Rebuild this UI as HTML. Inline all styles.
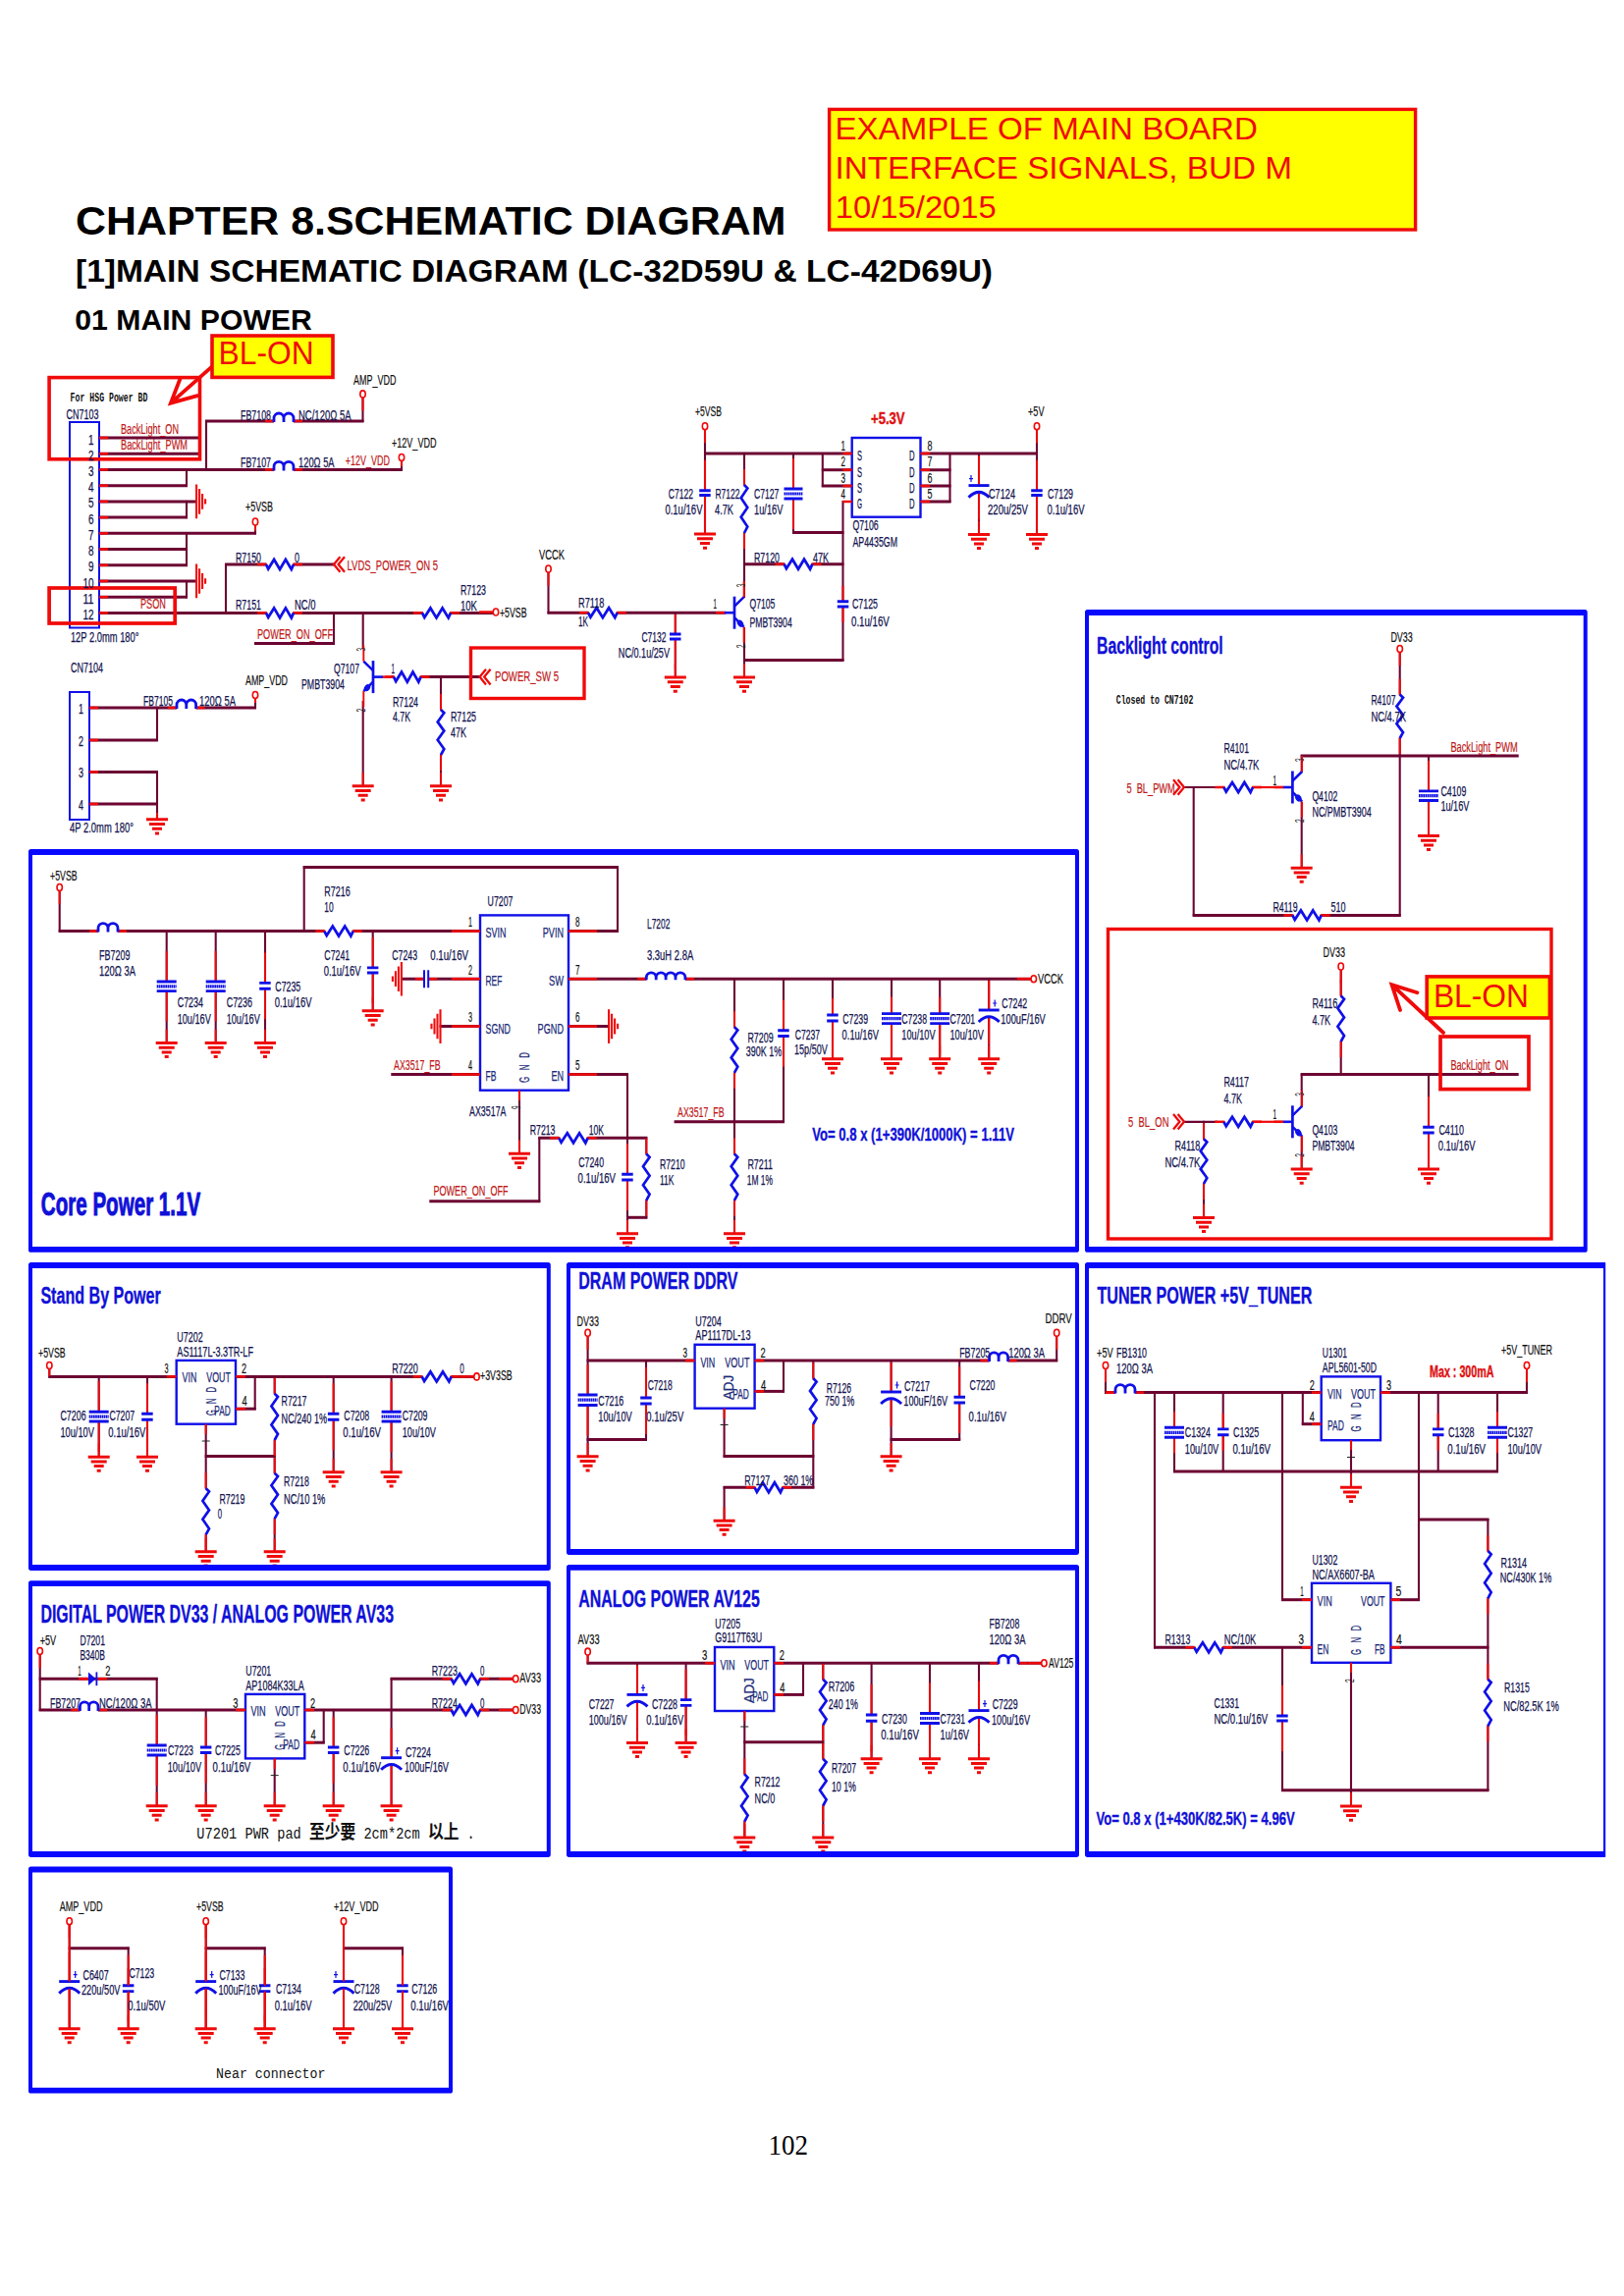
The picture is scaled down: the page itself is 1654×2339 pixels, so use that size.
<!DOCTYPE html>
<html><head><meta charset="utf-8"><title>Schematic</title><style>
html,body{margin:0;padding:0;background:#fff}
svg{display:block}
text{font-family:"Liberation Sans",sans-serif;white-space:pre}
.wh{stroke:#6c0432;stroke-width:3;fill:none}
.wv{stroke:#6c0432;stroke-width:2.1;fill:none}
.rh{stroke:#f00a0a;stroke-width:2.5;fill:none}
.rv{stroke:#f00a0a;stroke-width:1.9;fill:none}
.bz{stroke:#1010e8;stroke-width:2.8;fill:none;stroke-linejoin:miter}
.bzv{stroke:#1010e8;stroke-width:2.7;fill:none}
.bp{stroke:#1010e8;stroke-width:2.9;fill:none}
.bpv{stroke:#1010e8;stroke-width:2;fill:none}
.bpd{stroke:#1010e8;stroke-width:3.2;fill:none;stroke-dasharray:1.7 .45}
.g{stroke:#f00a0a;stroke-width:3;fill:none}
.gs{stroke:#f00a0a;stroke-width:2.1;fill:none}
.pw{stroke:#f00a0a;stroke-width:1.6;fill:#fff}
.n{fill:#141450;stroke:#141450;stroke-width:.25}
.ic{fill:#1a2a78;stroke:#1a2a78;stroke-width:.25}
.k{fill:#111;stroke:#111;stroke-width:.2}
.rd{fill:#c01818;stroke:#c01818;stroke-width:.2}
.rb{fill:#e01010;font-weight:bold;stroke:#e01010;stroke-width:.025em}
.ttl{fill:#1010d8;font-weight:bold;stroke:#1010d8;stroke-width:.35px;stroke-linejoin:round}
.ttlb{stroke-width:1px}
.mono{font-family:"Liberation Mono",monospace;font-weight:bold;fill:#111}
.cour{font-family:"Liberation Mono",monospace;fill:#111}
.cjk{font-family:"Noto Sans CJK SC",sans-serif;font-weight:bold;font-size:19px}
.hd{font-weight:bold;fill:#000}
.ser{font-family:"Liberation Serif",serif;fill:#000}
.an{fill:#f00a0a}
.tiny{font-size:12px;fill:#222}
</style></head>
<body><svg width="1654" height="2339" viewBox="0 0 1654 2339">
<rect width="1654" height="2339" fill="#fff"/>
<g id="wires"><path d="M100 446H202" class="wh"/><path d="M100 462.2H202" class="wh"/><path d="M100 478.4H410" class="wh"/><path d="M409 469V479.4" class="wv"/><path d="M210 428V479.4" class="wv"/><path d="M209 429H370.5" class="wh"/><path d="M369.5 404V430" class="wv"/><path d="M100 494.7H191" class="wh"/><path d="M190 477.4V495.7" class="wv"/><path d="M100 510.9H201" class="wh"/><path d="M100 527.1H191" class="wh"/><path d="M190 509.9V528.1" class="wv"/><path d="M100 543.3H261" class="wh"/><path d="M260 534V544.3" class="wv"/><path d="M100 559.5H191" class="wh"/><path d="M100 575.8H191" class="wh"/><path d="M190 542.3V576.8" class="wv"/><path d="M100 592H201" class="wh"/><path d="M100 608.2H191" class="wh"/><path d="M190 591V609.2" class="wv"/><path d="M100 624.4H505" class="wh"/><path d="M230 574V625.4" class="wv"/><path d="M229 575H341" class="wh"/><path d="M340 623.4V656.6" class="wv"/><path d="M259 655.6H341" class="wh"/><path d="M369.7 623.4V661" class="wv"/><path d="M369.7 714V801" class="wv"/><path d="M398 689.6H489" class="wh"/><path d="M449 688.6V801" class="wv"/><path d="M90 721H261" class="wh"/><path d="M260 711V722" class="wv"/><path d="M160 720V755" class="wv"/><path d="M90 754H161" class="wh"/><path d="M90 786.4H161" class="wh"/><path d="M90 819H161" class="wh"/><path d="M160 785.4V835" class="wv"/><path d="M718 436V544" class="wv"/><path d="M717 462H868" class="wh"/><path d="M758 461V609" class="wv"/><path d="M808 461V543.6" class="wv"/><path d="M807 542.6H859.5" class="wh"/><path d="M836.8 478.7H868" class="wh"/><path d="M836.8 495H868" class="wh"/><path d="M837.8 461V496" class="wv"/><path d="M858.5 510V673.6" class="wv"/><path d="M757 672.6H859.5" class="wh"/><path d="M936.5 462H1057" class="wh"/><path d="M936.5 478.7H968.5" class="wh"/><path d="M936.5 495H968.5" class="wh"/><path d="M936.5 511H968.5" class="wh"/><path d="M967.5 461V512" class="wv"/><path d="M997 461V544" class="wv"/><path d="M1056 436V544" class="wv"/><path d="M757 574.7H859.5" class="wh"/><path d="M758 639V690" class="wv"/><path d="M558.5 582V625.2" class="wv"/><path d="M557.5 624.2H739" class="wh"/><path d="M687.8 623.2V690" class="wv"/><path d="M1425.7 663V933.4" class="wv"/><path d="M1324.7 770H1546.7" class="wh"/><path d="M1325.7 769V787" class="wv"/><path d="M1325.7 817V884" class="wv"/><path d="M1215.7 801V933.4" class="wv"/><path d="M1214.7 932.4H1426.7" class="wh"/><path d="M1455 769V851" class="wv"/><path d="M1365.7 986V1095.5" class="wv"/><path d="M1324.7 1094.5H1546.7" class="wh"/><path d="M1325.7 1093.5V1128" class="wv"/><path d="M1325.7 1157V1191" class="wv"/><path d="M1226 1141.8V1240" class="wv"/><path d="M1455 1093.5V1191" class="wv"/><path d="M60.7 906V949.6" class="wv"/><path d="M59.7 948.6H490" class="wh"/><path d="M169.7 947.6V1062" class="wv"/><path d="M219.7 947.6V1062" class="wv"/><path d="M270 947.6V1062" class="wv"/><path d="M309.7 882.4V949.6" class="wv"/><path d="M308.7 883.4H630" class="wh"/><path d="M629 882.4V949.6" class="wv"/><path d="M578 948.6H630" class="wh"/><path d="M379.7 947.6V1030" class="wv"/><path d="M408 997.2H490" class="wh"/><path d="M447.6 1045.5H490" class="wh"/><path d="M398.3 1094.5H490" class="wh"/><path d="M529 1109.7V1175" class="wv"/><path d="M437.3 1223.8H550.3" class="wh"/><path d="M549.3 1158.3V1224.8" class="wv"/><path d="M548.3 1159.3H659.3" class="wh"/><path d="M578 997.2H1051" class="wh"/><path d="M578 1045.5H621" class="wh"/><path d="M578 1094.5H640" class="wh"/><path d="M639 1093.5V1256" class="wv"/><path d="M658.3 1158.3V1241.3" class="wv"/><path d="M638 1240.3H659.3" class="wh"/><path d="M748 996.2V1256" class="wv"/><path d="M798 996.2V1143.8" class="wv"/><path d="M686.6 1142.8H799" class="wh"/><path d="M848 996.2V1079" class="wv"/><path d="M908 996.2V1079" class="wv"/><path d="M957.2 996.2V1079" class="wv"/><path d="M1007.2 996.2V1079" class="wv"/><path d="M50.3 1393V1403.4" class="wv"/><path d="M49.3 1402.4H180.7" class="wh"/><path d="M100.7 1401.4V1484" class="wv"/><path d="M150 1401.4V1484" class="wv"/><path d="M239 1402.4H484" class="wh"/><path d="M239 1435.2H260.7" class="wh"/><path d="M259.7 1401.4V1436.2" class="wv"/><path d="M209.7 1449.7V1581" class="wv"/><path d="M208.7 1483.4H280.7" class="wh"/><path d="M279.7 1401.4V1581" class="wv"/><path d="M339.7 1401.4V1500" class="wv"/><path d="M398.6 1401.4V1500" class="wv"/><path d="M598.6 1360V1484" class="wv"/><path d="M597.6 1386H708.6" class="wh"/><path d="M658 1385V1467.4" class="wv"/><path d="M597.6 1466.4H659" class="wh"/><path d="M767.6 1386H1077.2" class="wh"/><path d="M1076.2 1360V1387" class="wv"/><path d="M767.6 1417.4H799" class="wh"/><path d="M798 1385V1418.4" class="wv"/><path d="M737.6 1433.7V1484.6" class="wv"/><path d="M736.6 1483.6H829.3" class="wh"/><path d="M828.3 1385V1516.3" class="wv"/><path d="M736.6 1515.3H829.3" class="wh"/><path d="M737.6 1514.3V1549" class="wv"/><path d="M907.6 1385V1484" class="wv"/><path d="M977.2 1385V1467.4" class="wv"/><path d="M906.6 1466.4H978.2" class="wh"/><path d="M1126 1393V1419.6" class="wv"/><path d="M1125 1418.6H1346.7" class="wh"/><path d="M1176 1417.6V1679.3" class="wv"/><path d="M1175 1678.3H1337" class="wh"/><path d="M1196 1417.6V1500" class="wv"/><path d="M1195 1499H1526" class="wh"/><path d="M1525 1417.6V1500" class="wv"/><path d="M1245.7 1417.6V1500" class="wv"/><path d="M1306 1417.6V1630.7" class="wv"/><path d="M1305 1629.7H1337" class="wh"/><path d="M1325.8 1450.7H1346.7" class="wh"/><path d="M1326.8 1417.6V1451.7" class="wv"/><path d="M1376 1466.2V1515" class="wv"/><path d="M1405 1418.6H1556" class="wh"/><path d="M1555 1393V1419.6" class="wv"/><path d="M1445 1417.6V1630.7" class="wv"/><path d="M1415.4 1629.7H1446" class="wh"/><path d="M1444 1548H1516.4" class="wh"/><path d="M1515.4 1547V1824.8" class="wv"/><path d="M1305 1823.8H1516.4" class="wh"/><path d="M1306 1677.3V1824.8" class="wv"/><path d="M1464.7 1417.6V1500" class="wv"/><path d="M1415.4 1678.3H1516.4" class="wh"/><path d="M1376 1692.8V1840" class="wv"/><path d="M40.7 1684V1743" class="wv"/><path d="M39.7 1742H251" class="wh"/><path d="M39.7 1710.3H160.7" class="wh"/><path d="M159.7 1709.3V1840" class="wv"/><path d="M209.7 1741V1840" class="wv"/><path d="M309.3 1742H524" class="wh"/><path d="M309.3 1775.2H330.7" class="wh"/><path d="M329.7 1741V1776.2" class="wv"/><path d="M279.7 1790.4V1840" class="wv"/><path d="M339.7 1741V1840" class="wv"/><path d="M397.6 1710.3H524" class="wh"/><path d="M398.6 1709.3V1840" class="wv"/><path d="M598.6 1684.6V1695.3" class="wv"/><path d="M597.6 1694.3H729" class="wh"/><path d="M649 1693.3V1775" class="wv"/><path d="M698.6 1693.3V1775" class="wv"/><path d="M787.3 1694.3H1062" class="wh"/><path d="M787.3 1726.4H819" class="wh"/><path d="M818 1693.3V1727.4" class="wv"/><path d="M758.3 1742V1872" class="wv"/><path d="M757.3 1774.7H839.3" class="wh"/><path d="M838.3 1693.3V1872" class="wv"/><path d="M887.6 1693.3V1791" class="wv"/><path d="M947 1693.3V1791" class="wv"/><path d="M997 1693.3V1791" class="wv"/><path d="M70.7 1959V2066" class="wv"/><path d="M69.7 1984.8H131.7" class="wh"/><path d="M130.7 1983.8V2066" class="wv"/><path d="M209.7 1959V2066" class="wv"/><path d="M208.7 1984.8H270.7" class="wh"/><path d="M269.7 1983.8V2066" class="wv"/><path d="M350 1959V2066" class="wv"/><path d="M349 1984.8H411" class="wh"/><path d="M410 1983.8V2066" class="wv"/></g>
<g id="comp"><rect x="71" y="430" width="30" height="209.5" fill="none" stroke="#1010e8" stroke-width="2"/><path d="M101 446H110" class="rh"/><path d="M101 462.2H110" class="rh"/><path d="M101 478.4H110" class="rh"/><path d="M101 494.7H110" class="rh"/><path d="M101 510.9H110" class="rh"/><path d="M101 527.1H110" class="rh"/><path d="M101 543.3H110" class="rh"/><path d="M101 559.5H110" class="rh"/><path d="M101 575.8H110" class="rh"/><path d="M101 592H110" class="rh"/><path d="M101 608.2H110" class="rh"/><path d="M101 624.4H110" class="rh"/><rect x="279" y="426" width="20" height="6" fill="#fff"/><path d="M270 429H279" class="rh"/><path d="M299 429H308" class="rh"/><path d="M279 430v-4a5 5 0 0 1 10 0v4v-4a5 5 0 0 1 10 0v4" class="bz" fill="none"/><path d="M369.5 404.4V418.4" class="rv"/><ellipse cx="369.5" cy="401.4" rx="2.7" ry="3.5" class="pw"/><rect x="279" y="475.4" width="20" height="6" fill="#fff"/><path d="M270 478.4H279" class="rh"/><path d="M299 478.4H308" class="rh"/><path d="M279 479.4v-4a5 5 0 0 1 10 0v4v-4a5 5 0 0 1 10 0v4" class="bz" fill="none"/><path d="M409 469V475" class="rv"/><ellipse cx="409" cy="466" rx="2.7" ry="3.5" class="pw"/><path d="M200.1 493.5v34.7M203.1 498.1v25.6M206.1 503v15.8M209.1 508.2v5.4" class="gs"/><path d="M260 534.5V540.5" class="rv"/><ellipse cx="260" cy="531.5" rx="2.7" ry="3.5" class="pw"/><path d="M200.1 574.6v34.7M203.1 579.2v25.6M206.1 584.1v15.8M209.1 589.3v5.4" class="gs"/><rect x="271" y="572" width="28" height="6" fill="#fff"/><path d="M262 575H272" class="rh"/><path d="M298 575H308" class="rh"/><path d="M271 575 L273.2 579.5 L279.1 570 L285 580 L290.9 570 L296.8 580 L299 575" class="bz"/><path d="M346.4 567.2L340 575L346.4 582.8M351 567.2L344.6 575L351 582.8" stroke="#f00a0a" stroke-width="2.3" fill="none"/><rect x="271" y="621.4" width="28" height="6" fill="#fff"/><path d="M262 624.4H272" class="rh"/><path d="M298 624.4H308" class="rh"/><path d="M271 624.4 L273.2 628.9 L279.1 619.4 L285 629.4 L290.9 619.4 L296.8 629.4 L299 624.4" class="bz"/><rect x="430" y="621.4" width="29" height="6" fill="#fff"/><path d="M421 624.4H431" class="rh"/><path d="M458 624.4H468" class="rh"/><path d="M430 624.4 L432.3 628.9 L438.4 619.4 L444.5 629.4 L450.6 619.4 L456.7 629.4 L459 624.4" class="bz"/><path d="M488 623.5H502.5" class="rh"/><ellipse cx="505" cy="623.5" rx="2.7" ry="3.5" class="pw"/><path d="M380 673.1v33" stroke="#1010e8" stroke-width="2.7"/><path d="M380 689.6h10" stroke="#1010e8" stroke-width="2.6"/><path d="M390 689.6H399" class="rh"/><path d="M380 683.1L370.3 673.6M380 694.6L370.3 704.1" stroke="#1010e8" stroke-width="2.5" fill="none"/><ellipse cx="374" cy="700.6" rx="2.9" ry="3.8" fill="#1010e8" transform="rotate(35 374 700.6)"/><path d="M370.3 657.6V673.6" class="rv"/><path d="M370.3 704.1V720.1" class="rv"/><text x="0" y="0" class="tiny" transform="translate(371.8,663.6) rotate(-90) scale(.55,1)">3</text><text x="0" y="0" class="tiny" transform="translate(371.8,725.6) rotate(-90) scale(.55,1)">2</text><path d="M369.7 787V800" class="rv"/><path d="M358.7 800.8h22M361.7 805.5h16M364.7 810.2h10M367.7 814.9h4" class="g"/><rect x="401" y="686.6" width="27.5" height="6" fill="#fff"/><path d="M392 689.6H402" class="rh"/><path d="M427.5 689.6H437.5" class="rh"/><path d="M401 689.6 L403.2 694.1 L409 684.6 L414.8 694.6 L420.5 684.6 L426.3 694.6 L428.5 689.6" class="bz"/><path d="M495 681.8L488.6 689.6L495 697.4M499.6 681.8L493.2 689.6L499.6 697.4" stroke="#f00a0a" stroke-width="2.3" fill="none"/><rect x="446.5" y="723" width="5" height="46" fill="#fff"/><path d="M449 707V724" class="rv"/><path d="M449 768V785" class="rv"/><path d="M449 723 L452.3 726.2 L445.7 735.4 L452.3 744.6 L445.7 753.8 L452.3 763 L449 769" class="bzv"/><path d="M449 787V800" class="rv"/><path d="M438 800.8h22M441 805.5h16M444 810.2h10M447 814.9h4" class="g"/><rect x="71" y="705" width="20" height="130" fill="none" stroke="#1010e8" stroke-width="2"/><path d="M91 721H100" class="rh"/><path d="M91 754H100" class="rh"/><path d="M91 786.4H100" class="rh"/><path d="M91 819H100" class="rh"/><path d="M260 711V716" class="rv"/><ellipse cx="260" cy="708" rx="2.7" ry="3.5" class="pw"/><rect x="180" y="718" width="19.5" height="6" fill="#fff"/><path d="M171 721H180" class="rh"/><path d="M199.5 721H208.5" class="rh"/><path d="M180 722v-4.1a4.9 4.9 0 0 1 9.8 0v4.1v-4.1a4.9 4.9 0 0 1 9.8 0v4.1" class="bz" fill="none"/><path d="M160 828V834" class="rv"/><path d="M149 834.8h22M152 839.5h16M155 844.2h10M158 848.9h4" class="g"/><path d="M718 437.3V451.3" class="rv"/><ellipse cx="718" cy="434.3" rx="2.7" ry="3.5" class="pw"/><rect x="715.5" y="499.7" width="5" height="4.8" fill="#fff"/><path d="M718 468.7V499.7" class="rv"/><path d="M718 504.5V535.5" class="rv"/><path d="M712.2 499.7h11.5M712.2 504.5h11.5" class="bp"/><path d="M718 530.3V543.3" class="rv"/><path d="M707 544.1h22M710 548.8h16M713 553.5h10M716 558.2h4" class="g"/><rect x="755.5" y="494" width="5" height="49" fill="#fff"/><path d="M758 478V495" class="rv"/><path d="M758 542V559" class="rv"/><path d="M758 494 L761.3 497.4 L754.7 507.2 L761.3 517 L754.7 526.8 L761.3 536.6 L758 543" class="bzv"/><rect x="805.5" y="498" width="5" height="10" fill="#fff"/><path d="M808 467V498" class="rv"/><path d="M808 508V539" class="rv"/><path d="M798.5 498h19M798.5 508h19" class="bp"/><path d="M798.5 503h19" class="bpd"/><rect x="867.7" y="446" width="69.8" height="80.7" fill="#fff" stroke="#1010e8" stroke-width="2.4"/><path d="M858.5 462H867.7" class="rh"/><path d="M937.5 462H947" class="rh"/><path d="M858.5 478.7H867.7" class="rh"/><path d="M937.5 478.7H947" class="rh"/><path d="M858.5 495H867.7" class="rh"/><path d="M937.5 495H947" class="rh"/><path d="M858.5 511H867.7" class="rh"/><path d="M937.5 511H947" class="rh"/><rect x="994.5" y="494.6" width="5" height="7" fill="#fff"/><path d="M997 464.6V494.6" class="rv"/><path d="M997 501.6V529.6" class="rv"/><path d="M986.5 494.6h21" class="bp"/><path d="M986.5 506.6Q997 496.1 1007.5 506.6" class="bp" fill="none"/><path d="M987 487.6h4M989 484.1v7" stroke="#1010e8" stroke-width="1.2" fill="none"/><path d="M997 530.7V543.7" class="rv"/><path d="M986 544.5h22M989 549.2h16M992 553.9h10M995 558.6h4" class="g"/><path d="M1056 437.3V451.3" class="rv"/><ellipse cx="1056" cy="434.3" rx="2.7" ry="3.5" class="pw"/><rect x="1053.5" y="499.7" width="5" height="4.8" fill="#fff"/><path d="M1056 468.7V499.7" class="rv"/><path d="M1056 504.5V535.5" class="rv"/><path d="M1050.2 499.7h11.5M1050.2 504.5h11.5" class="bp"/><path d="M1056 530.7V543.7" class="rv"/><path d="M1045 544.5h22M1048 549.2h16M1051 553.9h10M1054 558.6h4" class="g"/><rect x="798.6" y="571.7" width="28.8" height="6" fill="#fff"/><path d="M789.6 574.7H799.6" class="rh"/><path d="M826.4 574.7H836.4" class="rh"/><path d="M798.6 574.7 L800.9 579.2 L807 569.7 L813 579.7 L819 569.7 L825.1 579.7 L827.4 574.7" class="bz"/><rect x="856" y="612.8" width="5" height="5.2" fill="#fff"/><path d="M858.5 596.8V612.8" class="rv"/><path d="M858.5 618V634" class="rv"/><path d="M852.8 612.8h11.5M852.8 618h11.5" class="bp"/><path d="M748 607.7v33" stroke="#1010e8" stroke-width="2.7"/><path d="M748 624.2h-10" stroke="#1010e8" stroke-width="2.6"/><path d="M729 624.2H738" class="rh"/><path d="M748 617.7L757.7 608.2M748 629.2L757.7 638.7" stroke="#1010e8" stroke-width="2.5" fill="none"/><ellipse cx="754" cy="635.2" rx="2.9" ry="3.8" fill="#1010e8" transform="rotate(-35 754 635.2)"/><path d="M757.7 592.2V608.2" class="rv"/><path d="M757.7 638.7V654.7" class="rv"/><text x="0" y="0" class="tiny" transform="translate(759.2,598.2) rotate(-90) scale(.55,1)">3</text><text x="0" y="0" class="tiny" transform="translate(759.2,660.2) rotate(-90) scale(.55,1)">2</text><path d="M758 676.3V689.3" class="rv"/><path d="M747 690.1h22M750 694.8h16M753 699.5h10M756 704.2h4" class="g"/><path d="M558.5 582.5V596.5" class="rv"/><ellipse cx="558.5" cy="579.5" rx="2.7" ry="3.5" class="pw"/><rect x="599" y="621.2" width="29.7" height="6" fill="#fff"/><path d="M590 624.2H600" class="rh"/><path d="M627.7 624.2H637.7" class="rh"/><path d="M599 624.2 L601.4 628.7 L607.6 619.2 L613.9 629.2 L620.1 619.2 L626.3 629.2 L628.7 624.2" class="bz"/><rect x="685.3" y="646" width="5" height="5" fill="#fff"/><path d="M687.8 626V646" class="rv"/><path d="M687.8 651V682" class="rv"/><path d="M682 646h11.5M682 651h11.5" class="bp"/><path d="M687.8 676.3V689.3" class="rv"/><path d="M676.8 690.1h22M679.8 694.8h16M682.8 699.5h10M685.8 704.2h4" class="g"/><path d="M1425.7 664V678" class="rv"/><ellipse cx="1425.7" cy="661" rx="2.7" ry="3.5" class="pw"/><rect x="1423.2" y="707.6" width="5" height="44.4" fill="#fff"/><path d="M1425.7 691.6V708.6" class="rv"/><path d="M1425.7 751V768" class="rv"/><path d="M1425.7 707.6 L1429 710.7 L1422.4 719.6 L1429 728.5 L1422.4 737.3 L1429 746.2 L1425.7 752" class="bzv"/><path d="M1316.4 785.5v33" stroke="#1010e8" stroke-width="2.7"/><path d="M1316.4 802h-10" stroke="#1010e8" stroke-width="2.6"/><path d="M1297.4 802H1306.4" class="rh"/><path d="M1316.4 795.5L1326.1 786M1316.4 807L1326.1 816.5" stroke="#1010e8" stroke-width="2.5" fill="none"/><ellipse cx="1322.4" cy="813" rx="2.9" ry="3.8" fill="#1010e8" transform="rotate(-35 1322.4 813)"/><path d="M1326.1 770V786" class="rv"/><path d="M1326.1 816.5V832.5" class="rv"/><text x="0" y="0" class="tiny" transform="translate(1327.6,776) rotate(-90) scale(.55,1)">3</text><text x="0" y="0" class="tiny" transform="translate(1327.6,838) rotate(-90) scale(.55,1)">2</text><path d="M1325.7 870.4V883.4" class="rv"/><path d="M1314.7 884.2h22M1317.7 888.9h16M1320.7 893.6h10M1323.7 898.3h4" class="g"/><path d="M1206 802H1240" stroke="#6c0432" stroke-width="2.2"/><path d="M1276 802H1307" stroke="#f00a0a" stroke-width="2.2"/><rect x="1246.4" y="799" width="29.6" height="6" fill="#fff"/><path d="M1237.4 802H1247.4" class="rh"/><path d="M1275 802H1285" class="rh"/><path d="M1246.4 802 L1248.8 806.5 L1255 797 L1261.2 807 L1267.4 797 L1273.6 807 L1276 802" class="bz"/><path d="M1199.6 794.2L1206 802L1199.6 809.8M1195 794.2L1201.4 802L1195 809.8" stroke="#f00a0a" stroke-width="2.3" fill="none"/><rect x="1316.4" y="929.4" width="29.3" height="6" fill="#fff"/><path d="M1307.4 932.4H1317.4" class="rh"/><path d="M1344.7 932.4H1354.7" class="rh"/><path d="M1316.4 932.4 L1318.7 936.9 L1324.9 927.4 L1331.1 937.4 L1337.2 927.4 L1343.4 937.4 L1345.7 932.4" class="bz"/><rect x="1452.5" y="805.9" width="5" height="9.6" fill="#fff"/><path d="M1455 774.9V805.9" class="rv"/><path d="M1455 815.5V846.5" class="rv"/><path d="M1445 805.9h20M1445 815.5h20" class="bp"/><path d="M1445 810.7h20" class="bpd"/><path d="M1455 837.7V850.7" class="rv"/><path d="M1444 851.5h22M1447 856.2h16M1450 860.9h10M1453 865.6h4" class="g"/><path d="M1365.7 987.5V1001.5" class="rv"/><ellipse cx="1365.7" cy="984.5" rx="2.7" ry="3.5" class="pw"/><rect x="1363.2" y="1014.5" width="5" height="46.5" fill="#fff"/><path d="M1365.7 998.5V1015.5" class="rv"/><path d="M1365.7 1060V1077" class="rv"/><path d="M1365.7 1014.5 L1369 1017.8 L1362.4 1027.1 L1369 1036.4 L1362.4 1045.7 L1369 1055 L1365.7 1061" class="bzv"/><path d="M1316.4 1126.3v33" stroke="#1010e8" stroke-width="2.7"/><path d="M1316.4 1142.8h-10" stroke="#1010e8" stroke-width="2.6"/><path d="M1297.4 1142.8H1306.4" class="rh"/><path d="M1316.4 1136.3L1326.1 1126.8M1316.4 1147.8L1326.1 1157.3" stroke="#1010e8" stroke-width="2.5" fill="none"/><ellipse cx="1322.4" cy="1153.8" rx="2.9" ry="3.8" fill="#1010e8" transform="rotate(-35 1322.4 1153.8)"/><path d="M1326.1 1110.8V1126.8" class="rv"/><path d="M1326.1 1157.3V1173.3" class="rv"/><text x="0" y="0" class="tiny" transform="translate(1327.6,1116.8) rotate(-90) scale(.55,1)">3</text><text x="0" y="0" class="tiny" transform="translate(1327.6,1178.8) rotate(-90) scale(.55,1)">2</text><path d="M1325.7 1177.3V1190.3" class="rv"/><path d="M1314.7 1191.1h22M1317.7 1195.8h16M1320.7 1200.5h10M1323.7 1205.2h4" class="g"/><path d="M1206 1142.8H1240" stroke="#6c0432" stroke-width="2.2"/><path d="M1276 1142.8H1307" stroke="#f00a0a" stroke-width="2.2"/><rect x="1246.4" y="1139.8" width="29.6" height="6" fill="#fff"/><path d="M1237.4 1142.8H1247.4" class="rh"/><path d="M1275 1142.8H1285" class="rh"/><path d="M1246.4 1142.8 L1248.8 1147.3 L1255 1137.8 L1261.2 1147.8 L1267.4 1137.8 L1273.6 1147.8 L1276 1142.8" class="bz"/><path d="M1199.6 1135L1206 1142.8L1199.6 1150.6M1195 1135L1201.4 1142.8L1195 1150.6" stroke="#f00a0a" stroke-width="2.3" fill="none"/><rect x="1223.5" y="1160.3" width="5" height="45.6" fill="#fff"/><path d="M1226 1144.3V1161.3" class="rv"/><path d="M1226 1204.9V1221.9" class="rv"/><path d="M1226 1160.3 L1229.3 1163.5 L1222.7 1172.6 L1229.3 1181.7 L1222.7 1190.9 L1229.3 1200 L1226 1205.9" class="bzv"/><path d="M1226 1226.7V1239.7" class="rv"/><path d="M1215 1240.5h22M1218 1245.2h16M1221 1249.9h10M1224 1254.6h4" class="g"/><rect x="1452.5" y="1148.3" width="5" height="5.7" fill="#fff"/><path d="M1455 1117.3V1148.3" class="rv"/><path d="M1455 1154V1185" class="rv"/><path d="M1449.2 1148.3h11.5M1449.2 1154h11.5" class="bp"/><path d="M1455 1177.3V1190.3" class="rv"/><path d="M1444 1191.1h22M1447 1195.8h16M1450 1200.5h10M1453 1205.2h4" class="g"/><path d="M60.7 907V921" class="rv"/><ellipse cx="60.7" cy="904" rx="2.7" ry="3.5" class="pw"/><rect x="100" y="945.6" width="20" height="6" fill="#fff"/><path d="M91 948.6H100" class="rh"/><path d="M120 948.6H129" class="rh"/><path d="M100 949.6v-4a5 5 0 0 1 10 0v4v-4a5 5 0 0 1 10 0v4" class="bz" fill="none"/><rect x="167.2" y="1000" width="5" height="9.6" fill="#fff"/><path d="M169.7 969V1000" class="rv"/><path d="M169.7 1009.6V1040.6" class="rv"/><path d="M159.7 1000h20M159.7 1009.6h20" class="bp"/><path d="M159.7 1004.8h20" class="bpd"/><path d="M169.7 1048.7V1061.7" class="rv"/><path d="M158.7 1062.5h22M161.7 1067.2h16M164.7 1071.9h10M167.7 1076.6h4" class="g"/><rect x="217.2" y="1000" width="5" height="9.6" fill="#fff"/><path d="M219.7 969V1000" class="rv"/><path d="M219.7 1009.6V1040.6" class="rv"/><path d="M209.7 1000h20M209.7 1009.6h20" class="bp"/><path d="M209.7 1004.8h20" class="bpd"/><path d="M219.7 1048.7V1061.7" class="rv"/><path d="M208.7 1062.5h22M211.7 1067.2h16M214.7 1071.9h10M217.7 1076.6h4" class="g"/><rect x="267.5" y="1001.4" width="5" height="5.8" fill="#fff"/><path d="M270 970.4V1001.4" class="rv"/><path d="M270 1007.2V1038.2" class="rv"/><path d="M264.2 1001.4h11.5M264.2 1007.2h11.5" class="bp"/><path d="M270 1048.7V1061.7" class="rv"/><path d="M259 1062.5h22M262 1067.2h16M265 1071.9h10M268 1076.6h4" class="g"/><rect x="330.3" y="945.6" width="29.4" height="6" fill="#fff"/><path d="M321.3 948.6H331.3" class="rh"/><path d="M358.7 948.6H368.7" class="rh"/><path d="M330.3 948.6 L332.7 953.1 L338.8 943.6 L345 953.6 L351.2 943.6 L357.3 953.6 L359.7 948.6" class="bz"/><rect x="377.2" y="985.9" width="5" height="5.1" fill="#fff"/><path d="M379.7 954.9V985.9" class="rv"/><path d="M379.7 991V1022" class="rv"/><path d="M373.9 985.9h11.5M373.9 991h11.5" class="bp"/><path d="M379.7 1016V1029" class="rv"/><path d="M368.7 1029.8h22M371.7 1034.5h16M374.7 1039.2h10M377.7 1043.9h4" class="g"/><rect x="432" y="994.2" width="4.2" height="6" fill="#fff"/><path d="M423 997.2H432" class="rh"/><path d="M436.2 997.2H445.2" class="rh"/><path d="M432 988.2v18M436.2 988.2v18" class="bpv"/><path d="M408.9 979.9v34.7M405.9 984.4v25.6M402.9 989.3v15.8M399.9 994.5v5.4" class="gs"/><path d="M448.5 1028.2v34.7M445.5 1032.7v25.6M442.5 1037.6v15.8M439.5 1042.8v5.4" class="gs"/><rect x="489" y="932.4" width="90" height="178.3" fill="#fff" stroke="#1010e8" stroke-width="2.4"/><path d="M460 948.6H489" class="rh"/><path d="M579 948.6H608" class="rh"/><path d="M460 997.2H489" class="rh"/><path d="M579 997.2H608" class="rh"/><path d="M460 1045.5H489" class="rh"/><path d="M579 1045.5H608" class="rh"/><path d="M460 1094.5H489" class="rh"/><path d="M579 1094.5H608" class="rh"/><path d="M529 1110.7V1121" class="rv"/><path d="M529 1161.5V1174.5" class="rv"/><path d="M518 1175.3h22M521 1180h16M524 1184.7h10M527 1189.4h4" class="g"/><text class="tiny" transform="translate(530,1130) rotate(-90) scale(.55,1)">9</text><rect x="658.3" y="994.2" width="39.7" height="6" fill="#fff"/><path d="M649.3 997.2H658.3" class="rh"/><path d="M698 997.2H707" class="rh"/><path d="M658.3 998.2v-3a5 5 0 0 1 9.9 0v3v-3a5 5 0 0 1 9.9 0v3v-3a5 5 0 0 1 9.9 0v3v-3a5 5 0 0 1 9.9 0v3" class="bz" fill="none"/><path d="M1035.8 997.2H1050.3" class="rh"/><ellipse cx="1052.8" cy="997.2" rx="2.7" ry="3.5" class="pw"/><path d="M620.1 1028.2v34.7M623.1 1032.7v25.6M626.1 1037.6v15.8M629.1 1042.8v5.4" class="gs"/><rect x="636.5" y="1196.2" width="5" height="5.8" fill="#fff"/><path d="M639 1165.2V1196.2" class="rv"/><path d="M639 1202V1233" class="rv"/><path d="M633.2 1196.2h11.5M633.2 1202h11.5" class="bp"/><path d="M639 1242.9V1255.9" class="rv"/><path d="M628 1256.7h22M631 1261.4h16M634 1266.1h10M637 1270.8h4" class="g"/><rect x="569.3" y="1156.3" width="29.3" height="6" fill="#fff"/><path d="M560.3 1159.3H570.3" class="rh"/><path d="M597.6 1159.3H607.6" class="rh"/><path d="M569.3 1159.3 L571.6 1163.8 L577.8 1154.3 L584 1164.3 L590.1 1154.3 L596.3 1164.3 L598.6 1159.3" class="bz"/><rect x="655.8" y="1175.5" width="5" height="47.3" fill="#fff"/><path d="M658.3 1159.5V1176.5" class="rv"/><path d="M658.3 1221.8V1238.8" class="rv"/><path d="M658.3 1175.5 L661.6 1178.8 L655 1188.3 L661.6 1197.7 L655 1207.2 L661.6 1216.7 L658.3 1222.8" class="bzv"/><rect x="745.5" y="1046.2" width="5" height="46.6" fill="#fff"/><path d="M748 1030.2V1047.2" class="rv"/><path d="M748 1091.8V1108.8" class="rv"/><path d="M748 1046.2 L751.3 1049.5 L744.7 1058.8 L751.3 1068.1 L744.7 1077.4 L751.3 1086.7 L748 1092.8" class="bzv"/><rect x="745.5" y="1175.5" width="5" height="47.3" fill="#fff"/><path d="M748 1159.5V1176.5" class="rv"/><path d="M748 1221.8V1238.8" class="rv"/><path d="M748 1175.5 L751.3 1178.8 L744.7 1188.3 L751.3 1197.7 L744.7 1207.2 L751.3 1216.7 L748 1222.8" class="bzv"/><path d="M748 1242.9V1255.9" class="rv"/><path d="M737 1256.7h22M740 1261.4h16M743 1266.1h10M746 1270.8h4" class="g"/><rect x="795.5" y="1049.7" width="5" height="5.8" fill="#fff"/><path d="M798 1018.7V1049.7" class="rv"/><path d="M798 1055.5V1086.5" class="rv"/><path d="M792.2 1049.7h11.5M792.2 1055.5h11.5" class="bp"/><rect x="845.5" y="1034" width="5" height="6" fill="#fff"/><path d="M848 1017V1034" class="rv"/><path d="M848 1040V1071" class="rv"/><path d="M842.2 1034h11.5M842.2 1040h11.5" class="bp"/><path d="M848 1065V1078" class="rv"/><path d="M837 1078.8h22M840 1083.5h16M843 1088.2h10M846 1092.9h4" class="g"/><rect x="905.5" y="1032.6" width="5" height="10" fill="#fff"/><path d="M908 1015.6V1032.6" class="rv"/><path d="M908 1042.6V1073.6" class="rv"/><path d="M898 1032.6h20M898 1042.6h20" class="bp"/><path d="M898 1037.6h20" class="bpd"/><path d="M908 1065V1078" class="rv"/><path d="M897 1078.8h22M900 1083.5h16M903 1088.2h10M906 1092.9h4" class="g"/><rect x="954.7" y="1032.6" width="5" height="10" fill="#fff"/><path d="M957.2 1015.6V1032.6" class="rv"/><path d="M957.2 1042.6V1073.6" class="rv"/><path d="M947.2 1032.6h20M947.2 1042.6h20" class="bp"/><path d="M947.2 1037.6h20" class="bpd"/><path d="M957.2 1065V1078" class="rv"/><path d="M946.2 1078.8h22M949.2 1083.5h16M952.2 1088.2h10M955.2 1092.9h4" class="g"/><rect x="1004.7" y="1029" width="5" height="7" fill="#fff"/><path d="M1007.2 999V1029" class="rv"/><path d="M1007.2 1036V1064" class="rv"/><path d="M996.7 1029h21" class="bp"/><path d="M996.7 1041Q1007.2 1030.5 1017.7 1041" class="bp" fill="none"/><path d="M1011.2 1022h4M1013.2 1018.5v7" stroke="#1010e8" stroke-width="1.2" fill="none"/><path d="M1007.2 1065V1078" class="rv"/><path d="M996.2 1078.8h22M999.2 1083.5h16M1002.2 1088.2h10M1005.2 1092.9h4" class="g"/><path d="M50.3 1394V1402" class="rv"/><ellipse cx="50.3" cy="1391" rx="2.7" ry="3.5" class="pw"/><rect x="98.2" y="1438.3" width="5" height="9.7" fill="#fff"/><path d="M100.7 1407.3V1438.3" class="rv"/><path d="M100.7 1448V1479" class="rv"/><path d="M90.7 1438.3h20M90.7 1448h20" class="bp"/><path d="M90.7 1443.2h20" class="bpd"/><path d="M100.7 1470.4V1483.4" class="rv"/><path d="M89.7 1484.2h22M92.7 1488.9h16M95.7 1493.6h10M98.7 1498.3h4" class="g"/><rect x="147.5" y="1440.3" width="5" height="5.9" fill="#fff"/><path d="M150 1409.3V1440.3" class="rv"/><path d="M150 1446.2V1477.2" class="rv"/><path d="M144.2 1440.3h11.5M144.2 1446.2h11.5" class="bp"/><path d="M150 1470.4V1483.4" class="rv"/><path d="M139 1484.2h22M142 1488.9h16M145 1493.6h10M148 1498.3h4" class="g"/><rect x="179.7" y="1385.9" width="60.3" height="64.8" fill="#fff" stroke="#1010e8" stroke-width="2.4"/><path d="M170 1402.4H179.7" class="rh"/><path d="M240 1402.4H250" class="rh"/><path d="M240 1435.2H250" class="rh"/><path d="M209.7 1450.7V1461" class="rv"/><path d="M205.7 1468h8" stroke="#222" stroke-width="1"/><rect x="207.2" y="1516.2" width="5" height="47.2" fill="#fff"/><path d="M209.7 1500.2V1517.2" class="rv"/><path d="M209.7 1562.4V1579.4" class="rv"/><path d="M209.7 1516.2 L213 1519.5 L206.4 1528.9 L213 1538.4 L206.4 1547.8 L213 1557.3 L209.7 1563.4" class="bzv"/><path d="M209.7 1567V1580" class="rv"/><path d="M198.7 1580.8h22M201.7 1585.5h16M204.7 1590.2h10M207.7 1594.9h4" class="g"/><rect x="277.2" y="1419.7" width="5" height="47.3" fill="#fff"/><path d="M279.7 1403.7V1420.7" class="rv"/><path d="M279.7 1466V1483" class="rv"/><path d="M279.7 1419.7 L283 1423 L276.4 1432.5 L283 1441.9 L276.4 1451.4 L283 1460.9 L279.7 1467" class="bzv"/><rect x="277.2" y="1500.7" width="5" height="46.5" fill="#fff"/><path d="M279.7 1484.7V1501.7" class="rv"/><path d="M279.7 1546.2V1563.2" class="rv"/><path d="M279.7 1500.7 L283 1504 L276.4 1513.3 L283 1522.6 L276.4 1531.9 L283 1541.2 L279.7 1547.2" class="bzv"/><path d="M279.7 1567V1580" class="rv"/><path d="M268.7 1580.8h22M271.7 1585.5h16M274.7 1590.2h10M277.7 1594.9h4" class="g"/><rect x="337.2" y="1440.3" width="5" height="5.9" fill="#fff"/><path d="M339.7 1409.3V1440.3" class="rv"/><path d="M339.7 1446.2V1477.2" class="rv"/><path d="M333.9 1440.3h11.5M333.9 1446.2h11.5" class="bp"/><path d="M339.7 1486V1499" class="rv"/><path d="M328.7 1499.8h22M331.7 1504.5h16M334.7 1509.2h10M337.7 1513.9h4" class="g"/><rect x="396.1" y="1438.3" width="5" height="9.7" fill="#fff"/><path d="M398.6 1407.3V1438.3" class="rv"/><path d="M398.6 1448V1479" class="rv"/><path d="M388.6 1438.3h20M388.6 1448h20" class="bp"/><path d="M388.6 1443.2h20" class="bpd"/><path d="M398.6 1486V1499" class="rv"/><path d="M387.6 1499.8h22M390.6 1504.5h16M393.6 1509.2h10M396.6 1513.9h4" class="g"/><rect x="429.7" y="1399.4" width="30" height="6" fill="#fff"/><path d="M420.7 1402.4H430.7" class="rh"/><path d="M458.7 1402.4H468.7" class="rh"/><path d="M429.7 1402.4 L432.1 1406.9 L438.4 1397.4 L444.7 1407.4 L451 1397.4 L457.3 1407.4 L459.7 1402.4" class="bz"/><path d="M468.5 1402.4H483" class="rh"/><ellipse cx="485.5" cy="1402.4" rx="2.7" ry="3.5" class="pw"/><path d="M598.6 1360.8V1374.8" class="rv"/><ellipse cx="598.6" cy="1357.8" rx="2.7" ry="3.5" class="pw"/><rect x="596.1" y="1421" width="5" height="10.5" fill="#fff"/><path d="M598.6 1390V1421" class="rv"/><path d="M598.6 1431.5V1462.5" class="rv"/><path d="M588.6 1421h20M588.6 1431.5h20" class="bp"/><path d="M588.6 1426.2h20" class="bpd"/><path d="M598.6 1470V1483" class="rv"/><path d="M587.6 1483.8h22M590.6 1488.5h16M593.6 1493.2h10M596.6 1497.9h4" class="g"/><rect x="655.5" y="1424" width="5" height="6" fill="#fff"/><path d="M658 1393V1424" class="rv"/><path d="M658 1430V1461" class="rv"/><path d="M652.2 1424h11.5M652.2 1430h11.5" class="bp"/><rect x="707.6" y="1369.8" width="61" height="64.9" fill="#fff" stroke="#1010e8" stroke-width="2.4"/><path d="M698 1386H707.6" class="rh"/><path d="M768.6 1386H778" class="rh"/><path d="M768.6 1417.4H778" class="rh"/><path d="M1076.2 1360.8V1374.8" class="rv"/><ellipse cx="1076.2" cy="1357.8" rx="2.7" ry="3.5" class="pw"/><path d="M737.6 1434.7V1445" class="rv"/><path d="M733.6 1451.5h8" stroke="#222" stroke-width="1"/><rect x="825.8" y="1404.3" width="5" height="46.6" fill="#fff"/><path d="M828.3 1388.3V1405.3" class="rv"/><path d="M828.3 1449.9V1466.9" class="rv"/><path d="M828.3 1404.3 L831.6 1407.6 L825 1416.9 L831.6 1426.2 L825 1435.5 L831.6 1444.8 L828.3 1450.9" class="bzv"/><rect x="768.6" y="1512.3" width="28.6" height="6" fill="#fff"/><path d="M759.6 1515.3H769.6" class="rh"/><path d="M796.2 1515.3H806.2" class="rh"/><path d="M768.6 1515.3 L770.9 1519.8 L776.9 1510.3 L782.9 1520.3 L788.9 1510.3 L794.9 1520.3 L797.2 1515.3" class="bz"/><path d="M737.6 1535.4V1548.4" class="rv"/><path d="M726.6 1549.2h22M729.6 1553.9h16M732.6 1558.6h10M735.6 1563.3h4" class="g"/><rect x="905.1" y="1418" width="5" height="7" fill="#fff"/><path d="M907.6 1388V1418" class="rv"/><path d="M907.6 1425V1453" class="rv"/><path d="M897.1 1418h21" class="bp"/><path d="M897.1 1430Q907.6 1419.5 918.1 1430" class="bp" fill="none"/><path d="M911.6 1411h4M913.6 1407.5v7" stroke="#1010e8" stroke-width="1.2" fill="none"/><path d="M907.6 1470V1483" class="rv"/><path d="M896.6 1483.8h22M899.6 1488.5h16M902.6 1493.2h10M905.6 1497.9h4" class="g"/><rect x="974.7" y="1423.3" width="5" height="5.7" fill="#fff"/><path d="M977.2 1392.3V1423.3" class="rv"/><path d="M977.2 1429V1460" class="rv"/><path d="M971.5 1423.3h11.5M971.5 1429h11.5" class="bp"/><rect x="1007.6" y="1383" width="19" height="6" fill="#fff"/><path d="M998.6 1386H1007.6" class="rh"/><path d="M1026.6 1386H1035.6" class="rh"/><path d="M1007.6 1387v-4.3a4.7 4.7 0 0 1 9.5 0v4.3v-4.3a4.7 4.7 0 0 1 9.5 0v4.3" class="bz" fill="none"/><path d="M1126 1394V1408" class="rv"/><ellipse cx="1126" cy="1391" rx="2.7" ry="3.5" class="pw"/><path d="M1126 1418.6H1137" class="rh"/><rect x="1136" y="1415.6" width="20" height="6" fill="#fff"/><path d="M1127 1418.6H1136" class="rh"/><path d="M1156 1418.6H1165" class="rh"/><path d="M1136 1419.6v-4a5 5 0 0 1 10 0v4v-4a5 5 0 0 1 10 0v4" class="bz" fill="none"/><rect x="1193.5" y="1454.3" width="5" height="10" fill="#fff"/><path d="M1196 1438.3V1454.3" class="rv"/><path d="M1196 1464.3V1480.3" class="rv"/><path d="M1186 1454.3h20M1186 1464.3h20" class="bp"/><path d="M1186 1459.3h20" class="bpd"/><rect x="1243.2" y="1455.9" width="5" height="5.8" fill="#fff"/><path d="M1245.7 1439.9V1455.9" class="rv"/><path d="M1245.7 1461.7V1477.7" class="rv"/><path d="M1240 1455.9h11.5M1240 1461.7h11.5" class="bp"/><rect x="1345.7" y="1402.4" width="60.3" height="64.8" fill="#fff" stroke="#1010e8" stroke-width="2.4"/><path d="M1336 1418.6H1345.7" class="rh"/><path d="M1336 1450.7H1345.7" class="rh"/><path d="M1406 1418.6H1416" class="rh"/><path d="M1376 1467.2V1477" class="rv"/><path d="M1372 1484.5h8" stroke="#222" stroke-width="1"/><path d="M1376 1501.5V1514.5" class="rv"/><path d="M1365 1515.3h22M1368 1520h16M1371 1524.7h10M1374 1529.4h4" class="g"/><path d="M1555 1394V1408" class="rv"/><ellipse cx="1555" cy="1391" rx="2.7" ry="3.5" class="pw"/><rect x="1462.2" y="1455.9" width="5" height="5.8" fill="#fff"/><path d="M1464.7 1439.9V1455.9" class="rv"/><path d="M1464.7 1461.7V1477.7" class="rv"/><path d="M1459 1455.9h11.5M1459 1461.7h11.5" class="bp"/><rect x="1522.5" y="1454.3" width="5" height="10" fill="#fff"/><path d="M1525 1438.3V1454.3" class="rv"/><path d="M1525 1464.3V1480.3" class="rv"/><path d="M1515 1454.3h20M1515 1464.3h20" class="bp"/><path d="M1515 1459.3h20" class="bpd"/><rect x="1336" y="1612.8" width="80.4" height="81" fill="#fff" stroke="#1010e8" stroke-width="2.4"/><path d="M1326 1629.7H1336" class="rh"/><path d="M1326 1678.3H1336" class="rh"/><path d="M1416.4 1629.7H1426" class="rh"/><path d="M1416.4 1678.3H1426" class="rh"/><rect x="1216.4" y="1675.3" width="29.3" height="6" fill="#fff"/><path d="M1207.4 1678.3H1217.4" class="rh"/><path d="M1244.7 1678.3H1254.7" class="rh"/><path d="M1216.4 1678.3 L1218.7 1682.8 L1224.9 1673.3 L1231.1 1683.3 L1237.2 1673.3 L1243.4 1683.3 L1245.7 1678.3" class="bz"/><path d="M1376 1693.8V1704" class="rv"/><path d="M1376 1826.3V1839.3" class="rv"/><path d="M1365 1840.1h22M1368 1844.8h16M1371 1849.5h10M1374 1854.2h4" class="g"/><text class="tiny" transform="translate(1379,1714) rotate(-90) scale(.55,1)">2</text><rect x="1303.5" y="1748" width="5" height="5" fill="#fff"/><path d="M1306 1717V1748" class="rv"/><path d="M1306 1753V1784" class="rv"/><path d="M1300.2 1748h11.5M1300.2 1753h11.5" class="bp"/><rect x="1512.9" y="1580" width="5" height="48.3" fill="#fff"/><path d="M1515.4 1564V1581" class="rv"/><path d="M1515.4 1627.3V1644.3" class="rv"/><path d="M1515.4 1580 L1518.7 1583.4 L1512.1 1593 L1518.7 1602.7 L1512.1 1612.4 L1518.7 1622 L1515.4 1628.3" class="bzv"/><rect x="1512.9" y="1710.7" width="5" height="47.6" fill="#fff"/><path d="M1515.4 1694.7V1711.7" class="rv"/><path d="M1515.4 1757.3V1774.3" class="rv"/><path d="M1515.4 1710.7 L1518.7 1714 L1512.1 1723.6 L1518.7 1733.1 L1512.1 1742.6 L1518.7 1752.1 L1515.4 1758.3" class="bzv"/><path d="M40.7 1685V1699" class="rv"/><ellipse cx="40.7" cy="1682" rx="2.7" ry="3.5" class="pw"/><path d="M80 1710.3H90" class="rh"/><path d="M99 1710.3H109" class="rh"/><path d="M90 1703.6L97.6 1710.3L90 1717z" fill="#1010e8"/><path d="M98.4 1703.4v13.8" stroke="#1010e8" stroke-width="1.8"/><rect x="81.4" y="1739" width="18.6" height="6" fill="#fff"/><path d="M72.4 1742H81.4" class="rh"/><path d="M100 1742H109" class="rh"/><path d="M81.4 1743v-4.4a4.6 4.6 0 0 1 9.3 0v4.4v-4.4a4.6 4.6 0 0 1 9.3 0v4.4" class="bz" fill="none"/><rect x="157.2" y="1778" width="5" height="10" fill="#fff"/><path d="M159.7 1747V1778" class="rv"/><path d="M159.7 1788V1819" class="rv"/><path d="M149.7 1778h20M149.7 1788h20" class="bp"/><path d="M149.7 1783h20" class="bpd"/><path d="M159.7 1826V1839" class="rv"/><path d="M148.7 1839.8h22M151.7 1844.5h16M154.7 1849.2h10M157.7 1853.9h4" class="g"/><rect x="207.2" y="1780" width="5" height="5.5" fill="#fff"/><path d="M209.7 1749V1780" class="rv"/><path d="M209.7 1785.5V1816.5" class="rv"/><path d="M203.9 1780h11.5M203.9 1785.5h11.5" class="bp"/><path d="M209.7 1826V1839" class="rv"/><path d="M198.7 1839.8h22M201.7 1844.5h16M204.7 1849.2h10M207.7 1853.9h4" class="g"/><rect x="250" y="1725.9" width="60.3" height="65.5" fill="#fff" stroke="#1010e8" stroke-width="2.4"/><path d="M240 1742H250" class="rh"/><path d="M310.3 1742H320" class="rh"/><path d="M310.3 1775.2H320" class="rh"/><path d="M279.7 1791.4V1802" class="rv"/><path d="M275.7 1808.6h8" stroke="#222" stroke-width="1"/><path d="M279.7 1826V1839" class="rv"/><path d="M268.7 1839.8h22M271.7 1844.5h16M274.7 1849.2h10M277.7 1853.9h4" class="g"/><rect x="337.2" y="1780" width="5" height="5.5" fill="#fff"/><path d="M339.7 1749V1780" class="rv"/><path d="M339.7 1785.5V1816.5" class="rv"/><path d="M333.9 1780h11.5M333.9 1785.5h11.5" class="bp"/><path d="M339.7 1826V1839" class="rv"/><path d="M328.7 1839.8h22M331.7 1844.5h16M334.7 1849.2h10M337.7 1853.9h4" class="g"/><rect x="396.1" y="1790.7" width="5" height="7" fill="#fff"/><path d="M398.6 1760.7V1790.7" class="rv"/><path d="M398.6 1797.7V1825.7" class="rv"/><path d="M388.1 1790.7h21" class="bp"/><path d="M388.1 1802.7Q398.6 1792.2 409.1 1802.7" class="bp" fill="none"/><path d="M402.6 1783.7h4M404.6 1780.2v7" stroke="#1010e8" stroke-width="1.2" fill="none"/><path d="M398.6 1826V1839" class="rv"/><path d="M387.6 1839.8h22M390.6 1844.5h16M393.6 1849.2h10M396.6 1853.9h4" class="g"/><rect x="459.7" y="1707.3" width="29.3" height="6" fill="#fff"/><path d="M450.7 1710.3H460.7" class="rh"/><path d="M488 1710.3H498" class="rh"/><path d="M459.7 1710.3 L462 1714.8 L468.2 1705.3 L474.4 1715.3 L480.5 1705.3 L486.7 1715.3 L489 1710.3" class="bz"/><rect x="459.7" y="1739" width="29.3" height="6" fill="#fff"/><path d="M450.7 1742H460.7" class="rh"/><path d="M488 1742H498" class="rh"/><path d="M459.7 1742 L462 1746.5 L468.2 1737 L474.4 1747 L480.5 1737 L486.7 1747 L489 1742" class="bz"/><path d="M508.2 1710.3H522.7" class="rh"/><ellipse cx="525.2" cy="1710.3" rx="2.7" ry="3.5" class="pw"/><path d="M508.2 1742H522.7" class="rh"/><ellipse cx="525.2" cy="1742" rx="2.7" ry="3.5" class="pw"/><path d="M598.6 1685.6V1693.6" class="rv"/><ellipse cx="598.6" cy="1682.6" rx="2.7" ry="3.5" class="pw"/><rect x="646.5" y="1726.4" width="5" height="7" fill="#fff"/><path d="M649 1696.4V1726.4" class="rv"/><path d="M649 1733.4V1761.4" class="rv"/><path d="M638.5 1726.4h21" class="bp"/><path d="M638.5 1738.4Q649 1727.9 659.5 1738.4" class="bp" fill="none"/><path d="M653 1719.4h4M655 1715.9v7" stroke="#1010e8" stroke-width="1.2" fill="none"/><path d="M649 1761.7V1774.7" class="rv"/><path d="M638 1775.5h22M641 1780.2h16M644 1784.9h10M647 1789.6h4" class="g"/><rect x="696.1" y="1731.6" width="5" height="5.8" fill="#fff"/><path d="M698.6 1700.6V1731.6" class="rv"/><path d="M698.6 1737.4V1768.4" class="rv"/><path d="M692.9 1731.6h11.5M692.9 1737.4h11.5" class="bp"/><path d="M698.6 1761.7V1774.7" class="rv"/><path d="M687.6 1775.5h22M690.6 1780.2h16M693.6 1784.9h10M696.6 1789.6h4" class="g"/><rect x="728" y="1678" width="60.3" height="65" fill="#fff" stroke="#1010e8" stroke-width="2.4"/><path d="M718 1694.3H728" class="rh"/><path d="M788.3 1694.3H798" class="rh"/><path d="M788.3 1726.4H798" class="rh"/><path d="M758.3 1743V1753" class="rv"/><path d="M754.3 1759h8" stroke="#222" stroke-width="1"/><rect x="755.8" y="1807.4" width="5" height="48.3" fill="#fff"/><path d="M758.3 1791.4V1808.4" class="rv"/><path d="M758.3 1854.7V1871.7" class="rv"/><path d="M758.3 1807.4 L761.6 1810.8 L755 1820.4 L761.6 1830.1 L755 1839.8 L761.6 1849.4 L758.3 1855.7" class="bzv"/><path d="M758.3 1858.2V1871.2" class="rv"/><path d="M747.3 1872h22M750.3 1876.7h16M753.3 1881.4h10M756.3 1886.1h4" class="g"/><rect x="835.8" y="1710.9" width="5" height="46.5" fill="#fff"/><path d="M838.3 1694.9V1711.9" class="rv"/><path d="M838.3 1756.4V1773.4" class="rv"/><path d="M838.3 1710.9 L841.6 1714.2 L835 1723.5 L841.6 1732.8 L835 1742.1 L841.6 1751.4 L838.3 1757.4" class="bzv"/><rect x="835.8" y="1791.9" width="5" height="47.6" fill="#fff"/><path d="M838.3 1775.9V1792.9" class="rv"/><path d="M838.3 1838.5V1855.5" class="rv"/><path d="M838.3 1791.9 L841.6 1795.2 L835 1804.8 L841.6 1814.3 L835 1823.8 L841.6 1833.3 L838.3 1839.5" class="bzv"/><path d="M838.3 1858.2V1871.2" class="rv"/><path d="M827.3 1872h22M830.3 1876.7h16M833.3 1881.4h10M836.3 1886.1h4" class="g"/><rect x="885.1" y="1747" width="5" height="6.3" fill="#fff"/><path d="M887.6 1716V1747" class="rv"/><path d="M887.6 1753.3V1784.3" class="rv"/><path d="M881.9 1747h11.5M881.9 1753.3h11.5" class="bp"/><path d="M887.6 1777.9V1790.9" class="rv"/><path d="M876.6 1791.7h22M879.6 1796.4h16M882.6 1801.1h10M885.6 1805.8h4" class="g"/><rect x="944.5" y="1745.5" width="5" height="10" fill="#fff"/><path d="M947 1714.5V1745.5" class="rv"/><path d="M947 1755.5V1786.5" class="rv"/><path d="M937 1745.5h20M937 1755.5h20" class="bp"/><path d="M937 1750.5h20" class="bpd"/><path d="M947 1777.9V1790.9" class="rv"/><path d="M936 1791.7h22M939 1796.4h16M942 1801.1h10M945 1805.8h4" class="g"/><rect x="994.5" y="1742.6" width="5" height="7" fill="#fff"/><path d="M997 1712.6V1742.6" class="rv"/><path d="M997 1749.6V1777.6" class="rv"/><path d="M986.5 1742.6h21" class="bp"/><path d="M986.5 1754.6Q997 1744.1 1007.5 1754.6" class="bp" fill="none"/><path d="M1001 1735.6h4M1003 1732.1v7" stroke="#1010e8" stroke-width="1.2" fill="none"/><path d="M997 1777.9V1790.9" class="rv"/><path d="M986 1791.7h22M989 1796.4h16M992 1801.1h10M995 1805.8h4" class="g"/><rect x="1017" y="1691.3" width="20" height="6" fill="#fff"/><path d="M1008 1694.3H1017" class="rh"/><path d="M1037 1694.3H1046" class="rh"/><path d="M1017 1695.3v-4a5 5 0 0 1 10 0v4v-4a5 5 0 0 1 10 0v4" class="bz" fill="none"/><path d="M1046.4 1694.3H1060.9" class="rh"/><ellipse cx="1063.4" cy="1694.3" rx="2.7" ry="3.5" class="pw"/><path d="M70.7 1960.2V1974.2" class="rv"/><ellipse cx="70.7" cy="1957.2" rx="2.7" ry="3.5" class="pw"/><rect x="68.2" y="2018.6" width="5" height="7" fill="#fff"/><path d="M70.7 1988.6V2018.6" class="rv"/><path d="M70.7 2025.6V2053.6" class="rv"/><path d="M60.2 2018.6h21" class="bp"/><path d="M60.2 2030.6Q70.7 2020.1 81.2 2030.6" class="bp" fill="none"/><path d="M74.7 2011.6h4M76.7 2008.1v7" stroke="#1010e8" stroke-width="1.2" fill="none"/><path d="M70.7 2052.9V2065.9" class="rv"/><path d="M59.7 2066.7h22M62.7 2071.4h16M65.7 2076.1h10M68.7 2080.8h4" class="g"/><rect x="128.2" y="2022.8" width="5" height="5.8" fill="#fff"/><path d="M130.7 1991.8V2022.8" class="rv"/><path d="M130.7 2028.6V2059.6" class="rv"/><path d="M124.9 2022.8h11.5M124.9 2028.6h11.5" class="bp"/><path d="M130.7 2052.9V2065.9" class="rv"/><path d="M119.7 2066.7h22M122.7 2071.4h16M125.7 2076.1h10M128.7 2080.8h4" class="g"/><path d="M70.7 1960V2018.6" class="rv"/><path d="M70.7 2026V2066" class="rv"/><path d="M130.7 2005V2022.8" class="rv"/><path d="M130.7 2028.6V2066" class="rv"/><path d="M209.7 1960.2V1974.2" class="rv"/><ellipse cx="209.7" cy="1957.2" rx="2.7" ry="3.5" class="pw"/><rect x="207.2" y="2018.6" width="5" height="7" fill="#fff"/><path d="M209.7 1988.6V2018.6" class="rv"/><path d="M209.7 2025.6V2053.6" class="rv"/><path d="M199.2 2018.6h21" class="bp"/><path d="M199.2 2030.6Q209.7 2020.1 220.2 2030.6" class="bp" fill="none"/><path d="M213.7 2011.6h4M215.7 2008.1v7" stroke="#1010e8" stroke-width="1.2" fill="none"/><path d="M209.7 2052.9V2065.9" class="rv"/><path d="M198.7 2066.7h22M201.7 2071.4h16M204.7 2076.1h10M207.7 2080.8h4" class="g"/><rect x="267.2" y="2022.8" width="5" height="5.8" fill="#fff"/><path d="M269.7 1991.8V2022.8" class="rv"/><path d="M269.7 2028.6V2059.6" class="rv"/><path d="M263.9 2022.8h11.5M263.9 2028.6h11.5" class="bp"/><path d="M269.7 2052.9V2065.9" class="rv"/><path d="M258.7 2066.7h22M261.7 2071.4h16M264.7 2076.1h10M267.7 2080.8h4" class="g"/><path d="M209.7 1960V2018.6" class="rv"/><path d="M209.7 2026V2066" class="rv"/><path d="M269.7 2005V2022.8" class="rv"/><path d="M269.7 2028.6V2066" class="rv"/><path d="M350 1960.2V1974.2" class="rv"/><ellipse cx="350" cy="1957.2" rx="2.7" ry="3.5" class="pw"/><rect x="347.5" y="2018.6" width="5" height="7" fill="#fff"/><path d="M350 1988.6V2018.6" class="rv"/><path d="M350 2025.6V2053.6" class="rv"/><path d="M339.5 2018.6h21" class="bp"/><path d="M339.5 2030.6Q350 2020.1 360.5 2030.6" class="bp" fill="none"/><path d="M340 2011.6h4M342 2008.1v7" stroke="#1010e8" stroke-width="1.2" fill="none"/><path d="M350 2052.9V2065.9" class="rv"/><path d="M339 2066.7h22M342 2071.4h16M345 2076.1h10M348 2080.8h4" class="g"/><rect x="407.5" y="2022.8" width="5" height="5.8" fill="#fff"/><path d="M410 1991.8V2022.8" class="rv"/><path d="M410 2028.6V2059.6" class="rv"/><path d="M404.2 2022.8h11.5M404.2 2028.6h11.5" class="bp"/><path d="M410 2052.9V2065.9" class="rv"/><path d="M399 2066.7h22M402 2071.4h16M405 2076.1h10M408 2080.8h4" class="g"/><path d="M350 1960V2018.6" class="rv"/><path d="M350 2026V2066" class="rv"/><path d="M410 2005V2022.8" class="rv"/><path d="M410 2028.6V2066" class="rv"/></g>
<g id="boxes"><rect x="50.1" y="384.6" width="153.4" height="83.2" fill="none" stroke="#f00a0a" stroke-width="3.6"/><rect x="50.1" y="599" width="128.1" height="36" fill="none" stroke="#f00a0a" stroke-width="3.7"/><rect x="479.5" y="660" width="115.5" height="51.5" fill="none" stroke="#f00a0a" stroke-width="3.4"/><path d="M1107.6 621.1H1614.1Q1616.7 621.1 1616.7 623.7V1273.2Q1616.7 1275.8 1614.1 1275.8H1107.6Q1105 1275.8 1105 1273.2V623.7Q1105 621.1 1107.6 621.1ZM1109 626.9V1270H1612.7V626.9Z" fill="#0808ff" fill-rule="evenodd"/><rect x="1128.5" y="946.5" width="451.5" height="315.5" fill="none" stroke="#f00a0a" stroke-width="3.4"/><rect x="1467" y="1056" width="90" height="53.6" fill="none" stroke="#f00a0a" stroke-width="3.7"/><path d="M31.6 865.1H1096.4Q1099 865.1 1099 867.7V1273.2Q1099 1275.8 1096.4 1275.8H31.6Q29 1275.8 29 1273.2V867.7Q29 865.1 31.6 865.1ZM33 870.9V1270H1095V870.9Z" fill="#0808ff" fill-rule="evenodd"/><path d="M31.6 1286.1H558.2Q560.8 1286.1 560.8 1288.7V1597.3Q560.8 1599.9 558.2 1599.9H31.6Q29 1599.9 29 1597.3V1288.7Q29 1286.1 31.6 1286.1ZM33 1291.9V1594.1H556.8V1291.9Z" fill="#0808ff" fill-rule="evenodd"/><path d="M579.6 1286.1H1096.4Q1099 1286.1 1099 1288.7V1581.3Q1099 1583.9 1096.4 1583.9H579.6Q577 1583.9 577 1581.3V1288.7Q577 1286.1 579.6 1286.1ZM581 1291.9V1578.1H1095V1291.9Z" fill="#0808ff" fill-rule="evenodd"/><path d="M1107.6 1286.1H1634.4Q1637 1286.1 1637 1288.7V1889.3Q1637 1891.9 1634.4 1891.9H1107.6Q1105 1891.9 1105 1889.3V1288.7Q1105 1286.1 1107.6 1286.1ZM1109 1291.9V1886.1H1633V1291.9Z" fill="#0808ff" fill-rule="evenodd"/><rect x="1635.2" y="1280" width="18.8" height="620" fill="#fff"/><path d="M31.6 1610.2H558.2Q560.8 1610.2 560.8 1612.8V1889.3Q560.8 1891.9 558.2 1891.9H31.6Q29 1891.9 29 1889.3V1612.8Q29 1610.2 31.6 1610.2ZM33 1616V1886.1H556.8V1616Z" fill="#0808ff" fill-rule="evenodd"/><path d="M579.6 1594H1096.4Q1099 1594 1099 1596.6V1889.3Q1099 1891.9 1096.4 1891.9H579.6Q577 1891.9 577 1889.3V1596.6Q577 1594 579.6 1594ZM581 1599.8V1886.1H1095V1599.8Z" fill="#0808ff" fill-rule="evenodd"/><path d="M31.6 1901.6H458.4Q461 1901.6 461 1904.2V2130Q461 2132.6 458.4 2132.6H31.6Q29 2132.6 29 2130V1904.2Q29 1901.6 31.6 1901.6ZM33 1907.4V2126.8H457V1907.4Z" fill="#0808ff" fill-rule="evenodd"/></g>
<g id="txt"><text x="90" y="452.5" class="n" font-size="14" textLength="5.5" lengthAdjust="spacingAndGlyphs">1</text><text x="90" y="468.7" class="n" font-size="14" textLength="5.5" lengthAdjust="spacingAndGlyphs">2</text><text x="90" y="485" class="n" font-size="14" textLength="5.5" lengthAdjust="spacingAndGlyphs">3</text><text x="90" y="501.2" class="n" font-size="14" textLength="5.5" lengthAdjust="spacingAndGlyphs">4</text><text x="90" y="517.4" class="n" font-size="14" textLength="5.5" lengthAdjust="spacingAndGlyphs">5</text><text x="90" y="533.6" class="n" font-size="14" textLength="5.5" lengthAdjust="spacingAndGlyphs">6</text><text x="90" y="549.8" class="n" font-size="14" textLength="5.5" lengthAdjust="spacingAndGlyphs">7</text><text x="90" y="566.1" class="n" font-size="14" textLength="5.5" lengthAdjust="spacingAndGlyphs">8</text><text x="90" y="582.3" class="n" font-size="14" textLength="5.5" lengthAdjust="spacingAndGlyphs">9</text><text x="84.5" y="598.5" class="n" font-size="14" textLength="11" lengthAdjust="spacingAndGlyphs">10</text><text x="84.5" y="614.7" class="n" font-size="14" textLength="11" lengthAdjust="spacingAndGlyphs">11</text><text x="84.5" y="630.9" class="n" font-size="14" textLength="11" lengthAdjust="spacingAndGlyphs">12</text><text x="67.6" y="426.7" class="n" font-size="14" textLength="32.9" lengthAdjust="spacingAndGlyphs">CN7103</text><text x="71.6" y="408.8" class="mono" font-size="12.5" textLength="78.8" lengthAdjust="spacingAndGlyphs">For HSG Power BD</text><text x="245" y="427.5" class="n" font-size="14" textLength="31" lengthAdjust="spacingAndGlyphs">FB7108</text><text x="304" y="427.5" class="n" font-size="14" textLength="53.6" lengthAdjust="spacingAndGlyphs">NC/120Ω 5A</text><text x="360" y="391.6" class="k" font-size="14" textLength="43.5" lengthAdjust="spacingAndGlyphs">AMP_VDD</text><text x="245" y="475.5" class="n" font-size="14" textLength="31" lengthAdjust="spacingAndGlyphs">FB7107</text><text x="304" y="475.5" class="n" font-size="14" textLength="36.6" lengthAdjust="spacingAndGlyphs">120Ω 5A</text><text x="351.7" y="474" class="rd" font-size="14" textLength="45.3" lengthAdjust="spacingAndGlyphs">+12V_VDD</text><text x="399" y="455.5" class="k" font-size="14" textLength="45.5" lengthAdjust="spacingAndGlyphs">+12V_VDD</text><text x="250" y="521" class="k" font-size="14" textLength="28" lengthAdjust="spacingAndGlyphs">+5VSB</text><text x="240" y="573.4" class="n" font-size="14" textLength="26" lengthAdjust="spacingAndGlyphs">R7150</text><text x="300" y="573.4" class="n" font-size="14" textLength="5" lengthAdjust="spacingAndGlyphs">0</text><text x="353.5" y="581" class="rd" font-size="14" textLength="92.5" lengthAdjust="spacingAndGlyphs">LVDS_POWER_ON 5</text><text x="240" y="620.7" class="n" font-size="14" textLength="26" lengthAdjust="spacingAndGlyphs">R7151</text><text x="300" y="620.7" class="n" font-size="14" textLength="21.5" lengthAdjust="spacingAndGlyphs">NC/0</text><text x="262" y="651" class="rd" font-size="14" textLength="77" lengthAdjust="spacingAndGlyphs">POWER_ON_OFF</text><text x="469" y="606" class="n" font-size="14" textLength="26" lengthAdjust="spacingAndGlyphs">R7123</text><text x="469" y="622" class="n" font-size="14" textLength="17" lengthAdjust="spacingAndGlyphs">10K</text><text x="509" y="628.5" class="k" font-size="14" textLength="27.5" lengthAdjust="spacingAndGlyphs">+5VSB</text><text x="143" y="620" class="rd" font-size="14" textLength="26" lengthAdjust="spacingAndGlyphs">PSON</text><text x="123" y="442" class="rd" font-size="14" textLength="59" lengthAdjust="spacingAndGlyphs">BackLight_ON</text><text x="123" y="457.7" class="rd" font-size="14" textLength="68" lengthAdjust="spacingAndGlyphs">BackLight_PWM</text><text x="71.9" y="653.5" class="n" font-size="14" textLength="69.6" lengthAdjust="spacingAndGlyphs">12P 2.0mm 180°</text><text x="340" y="686" class="n" font-size="14" textLength="26" lengthAdjust="spacingAndGlyphs">Q7107</text><text x="307" y="702" class="n" font-size="14" textLength="44" lengthAdjust="spacingAndGlyphs">PMBT3904</text><text x="398.5" y="686" class="n" font-size="14" textLength="3.5" lengthAdjust="spacingAndGlyphs">1</text><text x="400" y="719.7" class="n" font-size="14" textLength="26" lengthAdjust="spacingAndGlyphs">R7124</text><text x="400" y="735" class="n" font-size="14" textLength="18" lengthAdjust="spacingAndGlyphs">4.7K</text><text x="504" y="693.5" class="rd" font-size="14" textLength="65" lengthAdjust="spacingAndGlyphs">POWER_SW 5</text><text x="459" y="735" class="n" font-size="14" textLength="26" lengthAdjust="spacingAndGlyphs">R7125</text><text x="459" y="751" class="n" font-size="14" textLength="16" lengthAdjust="spacingAndGlyphs">47K</text><text x="80" y="727" class="n" font-size="14" textLength="5" lengthAdjust="spacingAndGlyphs">1</text><text x="80" y="760" class="n" font-size="14" textLength="5" lengthAdjust="spacingAndGlyphs">2</text><text x="80" y="792.4" class="n" font-size="14" textLength="5" lengthAdjust="spacingAndGlyphs">3</text><text x="80" y="825" class="n" font-size="14" textLength="5" lengthAdjust="spacingAndGlyphs">4</text><text x="71.9" y="685.4" class="n" font-size="14" textLength="33" lengthAdjust="spacingAndGlyphs">CN7104</text><text x="250" y="698" class="k" font-size="14" textLength="43" lengthAdjust="spacingAndGlyphs">AMP_VDD</text><text x="146" y="718.5" class="n" font-size="14" textLength="30" lengthAdjust="spacingAndGlyphs">FB7105</text><text x="203" y="718.5" class="n" font-size="14" textLength="37" lengthAdjust="spacingAndGlyphs">120Ω 5A</text><text x="71" y="848" class="n" font-size="14" textLength="65" lengthAdjust="spacingAndGlyphs">4P 2.0mm 180°</text><text x="708" y="423.5" class="k" font-size="14" textLength="27" lengthAdjust="spacingAndGlyphs">+5VSB</text><text x="680.8" y="507.7" class="n" font-size="14" textLength="25.2" lengthAdjust="spacingAndGlyphs">C7122</text><text x="677.4" y="523.6" class="n" font-size="14" textLength="38.1" lengthAdjust="spacingAndGlyphs">0.1u/16V</text><text x="728.4" y="507.7" class="n" font-size="14" textLength="25.1" lengthAdjust="spacingAndGlyphs">R7122</text><text x="728" y="523.6" class="n" font-size="14" textLength="19" lengthAdjust="spacingAndGlyphs">4.7K</text><text x="768" y="507.7" class="n" font-size="14" textLength="25.4" lengthAdjust="spacingAndGlyphs">C7127</text><text x="768" y="523.6" class="n" font-size="14" textLength="29.5" lengthAdjust="spacingAndGlyphs">1u/16V</text><text x="873" y="469" class="n" font-size="14" textLength="5" lengthAdjust="spacingAndGlyphs">S</text><text x="926" y="469" class="n" font-size="14" textLength="5.6" lengthAdjust="spacingAndGlyphs">D</text><text x="856.5" y="458.5" class="k" font-size="14" textLength="4.5" lengthAdjust="spacingAndGlyphs">1</text><text x="944.5" y="458.5" class="k" font-size="14" textLength="5" lengthAdjust="spacingAndGlyphs">8</text><text x="873" y="485.7" class="n" font-size="14" textLength="5" lengthAdjust="spacingAndGlyphs">S</text><text x="926" y="485.7" class="n" font-size="14" textLength="5.6" lengthAdjust="spacingAndGlyphs">D</text><text x="856.5" y="475.2" class="k" font-size="14" textLength="4.5" lengthAdjust="spacingAndGlyphs">2</text><text x="944.5" y="475.2" class="k" font-size="14" textLength="5" lengthAdjust="spacingAndGlyphs">7</text><text x="873" y="502" class="n" font-size="14" textLength="5" lengthAdjust="spacingAndGlyphs">S</text><text x="926" y="502" class="n" font-size="14" textLength="5.6" lengthAdjust="spacingAndGlyphs">D</text><text x="856.5" y="491.5" class="k" font-size="14" textLength="4.5" lengthAdjust="spacingAndGlyphs">3</text><text x="944.5" y="491.5" class="k" font-size="14" textLength="5" lengthAdjust="spacingAndGlyphs">6</text><text x="873" y="518" class="n" font-size="14" textLength="5" lengthAdjust="spacingAndGlyphs">G</text><text x="926" y="518" class="n" font-size="14" textLength="5.6" lengthAdjust="spacingAndGlyphs">D</text><text x="856.5" y="507.5" class="k" font-size="14" textLength="4.5" lengthAdjust="spacingAndGlyphs">4</text><text x="944.5" y="507.5" class="k" font-size="14" textLength="5" lengthAdjust="spacingAndGlyphs">5</text><text x="887" y="431.9" class="rb" font-size="17" textLength="34.6" lengthAdjust="spacingAndGlyphs">+5.3V</text><text x="868.4" y="539.8" class="n" font-size="14" textLength="26.3" lengthAdjust="spacingAndGlyphs">Q7106</text><text x="868.4" y="556.8" class="n" font-size="14" textLength="45.6" lengthAdjust="spacingAndGlyphs">AP4435GM</text><text x="1007" y="507.7" class="n" font-size="14" textLength="27" lengthAdjust="spacingAndGlyphs">C7124</text><text x="1006" y="523.6" class="n" font-size="14" textLength="41" lengthAdjust="spacingAndGlyphs">220u/25V</text><text x="1047" y="423.5" class="k" font-size="14" textLength="16.5" lengthAdjust="spacingAndGlyphs">+5V</text><text x="1067" y="507.7" class="n" font-size="14" textLength="26" lengthAdjust="spacingAndGlyphs">C7129</text><text x="1066.5" y="523.6" class="n" font-size="14" textLength="38" lengthAdjust="spacingAndGlyphs">0.1u/16V</text><text x="768" y="573" class="n" font-size="14" textLength="26" lengthAdjust="spacingAndGlyphs">R7120</text><text x="828" y="573" class="n" font-size="14" textLength="16" lengthAdjust="spacingAndGlyphs">47K</text><text x="868" y="620.4" class="n" font-size="14" textLength="26" lengthAdjust="spacingAndGlyphs">C7125</text><text x="867" y="637.7" class="n" font-size="14" textLength="38.8" lengthAdjust="spacingAndGlyphs">0.1u/16V</text><text x="726.6" y="620" class="k" font-size="14" textLength="3.4" lengthAdjust="spacingAndGlyphs">1</text><text x="763.5" y="620.4" class="n" font-size="14" textLength="25.9" lengthAdjust="spacingAndGlyphs">Q7105</text><text x="763.5" y="638.8" class="n" font-size="14" textLength="43.2" lengthAdjust="spacingAndGlyphs">PMBT3904</text><text x="549" y="569.7" class="k" font-size="14" textLength="26" lengthAdjust="spacingAndGlyphs">VCCK</text><text x="589" y="619" class="n" font-size="14" textLength="26.4" lengthAdjust="spacingAndGlyphs">R7118</text><text x="589" y="637.7" class="n" font-size="14" textLength="10" lengthAdjust="spacingAndGlyphs">1K</text><text x="653.4" y="653.6" class="n" font-size="14" textLength="25.1" lengthAdjust="spacingAndGlyphs">C7132</text><text x="629.8" y="669.5" class="n" font-size="14" textLength="52.2" lengthAdjust="spacingAndGlyphs">NC/0.1u/25V</text><text x="1117" y="666.1" class="ttl" font-size="24" textLength="128.7" lengthAdjust="spacingAndGlyphs">Backlight control</text><text x="1136.8" y="716.9" class="mono" font-size="12.5" textLength="78.6" lengthAdjust="spacingAndGlyphs">Closed to CN7102</text><text x="1416.4" y="653.6" class="k" font-size="14" textLength="22.4" lengthAdjust="spacingAndGlyphs">DV33</text><text x="1396.4" y="718.4" class="n" font-size="14" textLength="25.2" lengthAdjust="spacingAndGlyphs">R4107</text><text x="1396.4" y="735" class="n" font-size="14" textLength="35.6" lengthAdjust="spacingAndGlyphs">NC/4.7K</text><text x="1477.4" y="766" class="rd" font-size="14" textLength="68.3" lengthAdjust="spacingAndGlyphs">BackLight_PWM</text><text x="1296.4" y="799.5" class="k" font-size="14" textLength="3.6" lengthAdjust="spacingAndGlyphs">1</text><text x="1336.4" y="815.7" class="n" font-size="14" textLength="25.9" lengthAdjust="spacingAndGlyphs">Q4102</text><text x="1336.4" y="832.2" class="n" font-size="14" textLength="60.4" lengthAdjust="spacingAndGlyphs">NC/PMBT3904</text><text x="1246.4" y="766.7" class="n" font-size="14" textLength="25.6" lengthAdjust="spacingAndGlyphs">R4101</text><text x="1246.4" y="784" class="n" font-size="14" textLength="35.9" lengthAdjust="spacingAndGlyphs">NC/4.7K</text><text x="1147.4" y="808" class="rd" font-size="14" textLength="49.4" lengthAdjust="spacingAndGlyphs">5  BL_PWM</text><text x="1296.4" y="928.8" class="n" font-size="14" textLength="25.2" lengthAdjust="spacingAndGlyphs">R4119</text><text x="1355.4" y="928.8" class="n" font-size="14" textLength="15.1" lengthAdjust="spacingAndGlyphs">510</text><text x="1467.4" y="810.5" class="n" font-size="14" textLength="25.9" lengthAdjust="spacingAndGlyphs">C4109</text><text x="1467.4" y="826" class="n" font-size="14" textLength="29" lengthAdjust="spacingAndGlyphs">1u/16V</text><text x="1347.4" y="974.7" class="k" font-size="14" textLength="22.5" lengthAdjust="spacingAndGlyphs">DV33</text><text x="1336.4" y="1027" class="n" font-size="14" textLength="25.9" lengthAdjust="spacingAndGlyphs">R4116</text><text x="1336.4" y="1043.6" class="n" font-size="14" textLength="18.6" lengthAdjust="spacingAndGlyphs">4.7K</text><text x="1477.4" y="1089.5" class="rd" font-size="14" textLength="59" lengthAdjust="spacingAndGlyphs">BackLight_ON</text><text x="1296.4" y="1139.5" class="k" font-size="14" textLength="3.6" lengthAdjust="spacingAndGlyphs">1</text><text x="1336.4" y="1155.7" class="n" font-size="14" textLength="25.9" lengthAdjust="spacingAndGlyphs">Q4103</text><text x="1336.4" y="1172.2" class="n" font-size="14" textLength="43.1" lengthAdjust="spacingAndGlyphs">PMBT3904</text><text x="1246.4" y="1107.4" class="n" font-size="14" textLength="25.6" lengthAdjust="spacingAndGlyphs">R4117</text><text x="1246.4" y="1124" class="n" font-size="14" textLength="18.6" lengthAdjust="spacingAndGlyphs">4.7K</text><text x="1149" y="1147.8" class="rd" font-size="14" textLength="41.5" lengthAdjust="spacingAndGlyphs">5  BL_ON</text><text x="1196.4" y="1171.9" class="n" font-size="14" textLength="25.9" lengthAdjust="spacingAndGlyphs">R4118</text><text x="1186.4" y="1189" class="n" font-size="14" textLength="35.9" lengthAdjust="spacingAndGlyphs">NC/4.7K</text><text x="1465.4" y="1155.7" class="n" font-size="14" textLength="25.6" lengthAdjust="spacingAndGlyphs">C4110</text><text x="1464.7" y="1172.2" class="n" font-size="14" textLength="37.9" lengthAdjust="spacingAndGlyphs">0.1u/16V</text><text x="51" y="896.7" class="k" font-size="14" textLength="27.6" lengthAdjust="spacingAndGlyphs">+5VSB</text><text x="101" y="977.8" class="n" font-size="14" textLength="31.4" lengthAdjust="spacingAndGlyphs">FB7209</text><text x="101" y="994.3" class="n" font-size="14" textLength="37" lengthAdjust="spacingAndGlyphs">120Ω 3A</text><text x="180.7" y="1026.4" class="n" font-size="14" textLength="26.3" lengthAdjust="spacingAndGlyphs">C7234</text><text x="180.7" y="1043.3" class="n" font-size="14" textLength="34.1" lengthAdjust="spacingAndGlyphs">10u/16V</text><text x="230.7" y="1026.4" class="n" font-size="14" textLength="26.3" lengthAdjust="spacingAndGlyphs">C7236</text><text x="230.7" y="1043.3" class="n" font-size="14" textLength="34.1" lengthAdjust="spacingAndGlyphs">10u/16V</text><text x="280.3" y="1009.8" class="n" font-size="14" textLength="25.9" lengthAdjust="spacingAndGlyphs">C7235</text><text x="279.7" y="1026.4" class="n" font-size="14" textLength="37.9" lengthAdjust="spacingAndGlyphs">0.1u/16V</text><text x="330.3" y="912.6" class="n" font-size="14" textLength="26.3" lengthAdjust="spacingAndGlyphs">R7216</text><text x="330.3" y="929" class="n" font-size="14" textLength="9.4" lengthAdjust="spacingAndGlyphs">10</text><text x="330.3" y="977.8" class="n" font-size="14" textLength="25.9" lengthAdjust="spacingAndGlyphs">C7241</text><text x="329.7" y="994.3" class="n" font-size="14" textLength="37.9" lengthAdjust="spacingAndGlyphs">0.1u/16V</text><text x="399.3" y="977.8" class="n" font-size="14" textLength="25.7" lengthAdjust="spacingAndGlyphs">C7243</text><text x="438.3" y="977.8" class="n" font-size="14" textLength="38.7" lengthAdjust="spacingAndGlyphs">0.1u/16V</text><text x="401" y="1089.8" class="rd" font-size="14" textLength="47.6" lengthAdjust="spacingAndGlyphs">AX3517_FB</text><text x="477" y="944.4" class="k" font-size="14" textLength="4" lengthAdjust="spacingAndGlyphs">1</text><text x="586" y="944.4" class="k" font-size="14" textLength="4.5" lengthAdjust="spacingAndGlyphs">8</text><text x="477" y="993" class="k" font-size="14" textLength="4" lengthAdjust="spacingAndGlyphs">2</text><text x="586" y="993" class="k" font-size="14" textLength="4.5" lengthAdjust="spacingAndGlyphs">7</text><text x="477" y="1041.3" class="k" font-size="14" textLength="4" lengthAdjust="spacingAndGlyphs">3</text><text x="586" y="1041.3" class="k" font-size="14" textLength="4.5" lengthAdjust="spacingAndGlyphs">6</text><text x="477" y="1090.3" class="k" font-size="14" textLength="4" lengthAdjust="spacingAndGlyphs">4</text><text x="586" y="1090.3" class="k" font-size="14" textLength="4.5" lengthAdjust="spacingAndGlyphs">5</text><text x="496.6" y="922.6" class="n" font-size="14" textLength="25.8" lengthAdjust="spacingAndGlyphs">U7207</text><text x="494.5" y="954.7" class="ic" font-size="14" textLength="21" lengthAdjust="spacingAndGlyphs">SVIN</text><text x="494.5" y="1003.6" class="ic" font-size="14" textLength="16.9" lengthAdjust="spacingAndGlyphs">REF</text><text x="494.5" y="1053" class="ic" font-size="14" textLength="25.5" lengthAdjust="spacingAndGlyphs">SGND</text><text x="494.5" y="1101.2" class="ic" font-size="14" textLength="11" lengthAdjust="spacingAndGlyphs">FB</text><text x="552.8" y="954.7" class="ic" font-size="14" textLength="21.2" lengthAdjust="spacingAndGlyphs">PVIN</text><text x="559" y="1003.6" class="ic" font-size="14" textLength="15" lengthAdjust="spacingAndGlyphs">SW</text><text x="547.6" y="1053" class="ic" font-size="14" textLength="26.4" lengthAdjust="spacingAndGlyphs">PGND</text><text x="561.4" y="1101.2" class="ic" font-size="14" textLength="12.6" lengthAdjust="spacingAndGlyphs">EN</text><text x="0" y="0" class="ic" font-size="15" textLength="31" lengthAdjust="spacingAndGlyphs" transform="translate(539.2,1103) rotate(-90)">G   N   D</text><text x="478" y="1137.4" class="n" font-size="14" textLength="37.5" lengthAdjust="spacingAndGlyphs">AX3517A</text><text x="539.7" y="1155.7" class="n" font-size="14" textLength="25.8" lengthAdjust="spacingAndGlyphs">R7213</text><text x="441.4" y="1218.4" class="rd" font-size="14" textLength="76.2" lengthAdjust="spacingAndGlyphs">POWER_ON_OFF</text><text x="41.8" y="1238.3" class="ttl ttlb" font-size="33" textLength="162.4" lengthAdjust="spacingAndGlyphs">Core Power 1.1V</text><text x="659" y="946" class="n" font-size="14" textLength="23.4" lengthAdjust="spacingAndGlyphs">L7202</text><text x="659" y="977.8" class="n" font-size="14" textLength="47.2" lengthAdjust="spacingAndGlyphs">3.3uH 2.8A</text><text x="1057" y="1002" class="k" font-size="14" textLength="26" lengthAdjust="spacingAndGlyphs">VCCK</text><text x="599.7" y="1155.7" class="n" font-size="14" textLength="15.3" lengthAdjust="spacingAndGlyphs">10K</text><text x="589.3" y="1189" class="n" font-size="14" textLength="25.7" lengthAdjust="spacingAndGlyphs">C7240</text><text x="588.6" y="1205.3" class="n" font-size="14" textLength="38.4" lengthAdjust="spacingAndGlyphs">0.1u/16V</text><text x="672" y="1190.9" class="n" font-size="14" textLength="25.6" lengthAdjust="spacingAndGlyphs">R7210</text><text x="672" y="1207" class="n" font-size="14" textLength="14.5" lengthAdjust="spacingAndGlyphs">11K</text><text x="761.4" y="1061.6" class="n" font-size="14" textLength="26.2" lengthAdjust="spacingAndGlyphs">R7209</text><text x="759.7" y="1076.4" class="n" font-size="14" textLength="36.5" lengthAdjust="spacingAndGlyphs">390K 1%</text><text x="761.4" y="1190.9" class="n" font-size="14" textLength="25.6" lengthAdjust="spacingAndGlyphs">R7211</text><text x="760.7" y="1207" class="n" font-size="14" textLength="26.3" lengthAdjust="spacingAndGlyphs">1M 1%</text><text x="690" y="1138" class="rd" font-size="14" textLength="47.6" lengthAdjust="spacingAndGlyphs">AX3517_FB</text><text x="809.7" y="1059" class="n" font-size="14" textLength="25.3" lengthAdjust="spacingAndGlyphs">C7237</text><text x="809" y="1073.6" class="n" font-size="14" textLength="33.8" lengthAdjust="spacingAndGlyphs">15p/50V</text><text x="858.3" y="1043.3" class="n" font-size="14" textLength="25.7" lengthAdjust="spacingAndGlyphs">C7239</text><text x="857.6" y="1059" class="n" font-size="14" textLength="37.4" lengthAdjust="spacingAndGlyphs">0.1u/16V</text><text x="918.3" y="1043.3" class="n" font-size="14" textLength="25.7" lengthAdjust="spacingAndGlyphs">C7238</text><text x="918.3" y="1059" class="n" font-size="14" textLength="34.3" lengthAdjust="spacingAndGlyphs">10u/10V</text><text x="967.5" y="1043.3" class="n" font-size="14" textLength="25.7" lengthAdjust="spacingAndGlyphs">C7201</text><text x="967.5" y="1059" class="n" font-size="14" textLength="34.3" lengthAdjust="spacingAndGlyphs">10u/10V</text><text x="1020.3" y="1027" class="n" font-size="14" textLength="25.9" lengthAdjust="spacingAndGlyphs">C7242</text><text x="1019.3" y="1043.3" class="n" font-size="14" textLength="45.5" lengthAdjust="spacingAndGlyphs">100uF/16V</text><text x="827.2" y="1161.6" class="ttl" font-size="19" textLength="205.8" lengthAdjust="spacingAndGlyphs">Vo= 0.8 x (1+390K/1000K) = 1.11V</text><text x="41.4" y="1328.1" class="ttl" font-size="24" textLength="122.4" lengthAdjust="spacingAndGlyphs">Stand By Power</text><text x="39" y="1383.3" class="k" font-size="14" textLength="27.6" lengthAdjust="spacingAndGlyphs">+5VSB</text><text x="61.4" y="1447" class="n" font-size="14" textLength="26.2" lengthAdjust="spacingAndGlyphs">C7206</text><text x="61.4" y="1463.6" class="n" font-size="14" textLength="34.5" lengthAdjust="spacingAndGlyphs">10u/10V</text><text x="111.4" y="1447" class="n" font-size="14" textLength="25.8" lengthAdjust="spacingAndGlyphs">C7207</text><text x="110.3" y="1463.6" class="n" font-size="14" textLength="38" lengthAdjust="spacingAndGlyphs">0.1u/16V</text><text x="180.3" y="1367" class="n" font-size="14" textLength="26.3" lengthAdjust="spacingAndGlyphs">U7202</text><text x="180.3" y="1382.2" class="n" font-size="14" textLength="77.7" lengthAdjust="spacingAndGlyphs">AS1117L-3.3TR-LF</text><text x="167.6" y="1398.8" class="k" font-size="14" textLength="4.1" lengthAdjust="spacingAndGlyphs">3</text><text x="245.9" y="1398.8" class="k" font-size="14" textLength="5.1" lengthAdjust="spacingAndGlyphs">2</text><text x="246.5" y="1431.6" class="k" font-size="14" textLength="5.2" lengthAdjust="spacingAndGlyphs">4</text><text x="185.5" y="1408.4" class="ic" font-size="14" textLength="14.8" lengthAdjust="spacingAndGlyphs">VIN</text><text x="210.3" y="1408.4" class="ic" font-size="14" textLength="24.5" lengthAdjust="spacingAndGlyphs">VOUT</text><text x="218.3" y="1442" class="ic" font-size="14" textLength="16.5" lengthAdjust="spacingAndGlyphs">PAD</text><text x="0" y="0" class="ic" font-size="15" textLength="29.2" lengthAdjust="spacingAndGlyphs" transform="translate(220.2,1442) rotate(-90)">G   N   D</text><text x="286.6" y="1432.2" class="n" font-size="14" textLength="25.8" lengthAdjust="spacingAndGlyphs">R7217</text><text x="286.6" y="1449.8" class="n" font-size="14" textLength="46.4" lengthAdjust="spacingAndGlyphs">NC/240 1%</text><text x="289" y="1513.6" class="n" font-size="14" textLength="25.8" lengthAdjust="spacingAndGlyphs">R7218</text><text x="289" y="1531.6" class="n" font-size="14" textLength="42.4" lengthAdjust="spacingAndGlyphs">NC/10 1%</text><text x="223.4" y="1531.6" class="n" font-size="14" textLength="25.9" lengthAdjust="spacingAndGlyphs">R7219</text><text x="221.7" y="1547" class="n" font-size="14" textLength="4.3" lengthAdjust="spacingAndGlyphs">0</text><text x="350.3" y="1447" class="n" font-size="14" textLength="25.9" lengthAdjust="spacingAndGlyphs">C7208</text><text x="349.3" y="1463.6" class="n" font-size="14" textLength="38.7" lengthAdjust="spacingAndGlyphs">0.1u/16V</text><text x="409.7" y="1447" class="n" font-size="14" textLength="25.8" lengthAdjust="spacingAndGlyphs">C7209</text><text x="409.7" y="1463.6" class="n" font-size="14" textLength="34.3" lengthAdjust="spacingAndGlyphs">10u/10V</text><text x="399.3" y="1398.8" class="n" font-size="14" textLength="26.6" lengthAdjust="spacingAndGlyphs">R7220</text><text x="468.3" y="1398.8" class="n" font-size="14" textLength="4.5" lengthAdjust="spacingAndGlyphs">0</text><text x="489" y="1405.7" class="k" font-size="14" textLength="32.7" lengthAdjust="spacingAndGlyphs">+3V3SB</text><text x="589.3" y="1312.9" class="ttl" font-size="24" textLength="162.1" lengthAdjust="spacingAndGlyphs">DRAM POWER DDRV</text><text x="587.6" y="1351.4" class="k" font-size="14" textLength="22.4" lengthAdjust="spacingAndGlyphs">DV33</text><text x="609.3" y="1431.7" class="n" font-size="14" textLength="25.9" lengthAdjust="spacingAndGlyphs">C7216</text><text x="609.3" y="1448" class="n" font-size="14" textLength="34.5" lengthAdjust="spacingAndGlyphs">10u/10V</text><text x="659.7" y="1415.5" class="n" font-size="14" textLength="25.1" lengthAdjust="spacingAndGlyphs">C7218</text><text x="658.3" y="1448" class="n" font-size="14" textLength="37.9" lengthAdjust="spacingAndGlyphs">0.1u/25V</text><text x="708.3" y="1351.4" class="n" font-size="14" textLength="26.5" lengthAdjust="spacingAndGlyphs">U7204</text><text x="708.3" y="1365.2" class="n" font-size="14" textLength="56.2" lengthAdjust="spacingAndGlyphs">AP1117DL-13</text><text x="695.5" y="1382.8" class="k" font-size="14" textLength="4.5" lengthAdjust="spacingAndGlyphs">3</text><text x="774.5" y="1382.8" class="k" font-size="14" textLength="5.2" lengthAdjust="spacingAndGlyphs">2</text><text x="775" y="1415.5" class="k" font-size="14" textLength="5.2" lengthAdjust="spacingAndGlyphs">4</text><text x="713.4" y="1392.8" class="ic" font-size="14" textLength="14.9" lengthAdjust="spacingAndGlyphs">VIN</text><text x="738.3" y="1392.8" class="ic" font-size="14" textLength="25.1" lengthAdjust="spacingAndGlyphs">VOUT</text><text x="746.2" y="1424.8" class="ic" font-size="14" textLength="16.6" lengthAdjust="spacingAndGlyphs">PAD</text><text x="0" y="0" class="ic" font-size="15" textLength="25" lengthAdjust="spacingAndGlyphs" transform="translate(747.1,1426) rotate(-90)">ADJ</text><text x="1064.5" y="1348" class="k" font-size="14" textLength="27.2" lengthAdjust="spacingAndGlyphs">DDRV</text><text x="841.7" y="1419" class="n" font-size="14" textLength="25.3" lengthAdjust="spacingAndGlyphs">R7126</text><text x="840" y="1432.4" class="n" font-size="14" textLength="30.3" lengthAdjust="spacingAndGlyphs">750 1%</text><text x="758.3" y="1513.4" class="n" font-size="14" textLength="25.7" lengthAdjust="spacingAndGlyphs">R7127</text><text x="798" y="1513.4" class="n" font-size="14" textLength="30.3" lengthAdjust="spacingAndGlyphs">360 1%</text><text x="921" y="1417" class="n" font-size="14" textLength="26" lengthAdjust="spacingAndGlyphs">C7217</text><text x="920.3" y="1431.7" class="n" font-size="14" textLength="44.9" lengthAdjust="spacingAndGlyphs">100uF/16V</text><text x="987.6" y="1415.5" class="n" font-size="14" textLength="25.8" lengthAdjust="spacingAndGlyphs">C7220</text><text x="986.6" y="1448" class="n" font-size="14" textLength="38.2" lengthAdjust="spacingAndGlyphs">0.1u/16V</text><text x="977.2" y="1382.8" class="n" font-size="14" textLength="31.1" lengthAdjust="spacingAndGlyphs">FB7205</text><text x="1027.2" y="1382.8" class="n" font-size="14" textLength="36.8" lengthAdjust="spacingAndGlyphs">120Ω 3A</text><text x="1117.4" y="1328.3" class="ttl" font-size="24" textLength="219" lengthAdjust="spacingAndGlyphs">TUNER POWER +5V_TUNER</text><text x="1117" y="1383.3" class="k" font-size="14" textLength="16.7" lengthAdjust="spacingAndGlyphs">+5V</text><text x="1137" y="1383.3" class="n" font-size="14" textLength="31" lengthAdjust="spacingAndGlyphs">FB1310</text><text x="1137" y="1398.8" class="n" font-size="14" textLength="37" lengthAdjust="spacingAndGlyphs">120Ω 3A</text><text x="1206.8" y="1464.3" class="n" font-size="14" textLength="26.2" lengthAdjust="spacingAndGlyphs">C1324</text><text x="1206.8" y="1480.5" class="n" font-size="14" textLength="34.4" lengthAdjust="spacingAndGlyphs">10u/10V</text><text x="1256" y="1464.3" class="n" font-size="14" textLength="26.3" lengthAdjust="spacingAndGlyphs">C1325</text><text x="1255.4" y="1480.5" class="n" font-size="14" textLength="38.6" lengthAdjust="spacingAndGlyphs">0.1u/16V</text><text x="1346.8" y="1383.3" class="n" font-size="14" textLength="25.2" lengthAdjust="spacingAndGlyphs">U1301</text><text x="1346.8" y="1398" class="n" font-size="14" textLength="55.2" lengthAdjust="spacingAndGlyphs">APL5601-50D</text><text x="1333.7" y="1416" class="k" font-size="14" textLength="5.1" lengthAdjust="spacingAndGlyphs">2</text><text x="1333.7" y="1447.8" class="k" font-size="14" textLength="5.1" lengthAdjust="spacingAndGlyphs">4</text><text x="1412" y="1416" class="k" font-size="14" textLength="5" lengthAdjust="spacingAndGlyphs">3</text><text x="1352" y="1424.7" class="ic" font-size="14" textLength="14.4" lengthAdjust="spacingAndGlyphs">VIN</text><text x="1376" y="1424.7" class="ic" font-size="14" textLength="25" lengthAdjust="spacingAndGlyphs">VOUT</text><text x="1352" y="1457.4" class="ic" font-size="14" textLength="16.8" lengthAdjust="spacingAndGlyphs">PAD</text><text x="0" y="0" class="ic" font-size="15" textLength="30.3" lengthAdjust="spacingAndGlyphs" transform="translate(1385.6,1458.6) rotate(-90)">G   N   D</text><text x="1529" y="1379.8" class="k" font-size="14" textLength="52" lengthAdjust="spacingAndGlyphs">+5V_TUNER</text><text x="1456" y="1403.3" class="rb" font-size="17" textLength="65.6" lengthAdjust="spacingAndGlyphs">Max : 300mA</text><text x="1475" y="1464.3" class="n" font-size="14" textLength="26.6" lengthAdjust="spacingAndGlyphs">C1328</text><text x="1474.3" y="1480.5" class="n" font-size="14" textLength="38.7" lengthAdjust="spacingAndGlyphs">0.1u/16V</text><text x="1535.4" y="1464.3" class="n" font-size="14" textLength="25.8" lengthAdjust="spacingAndGlyphs">C1327</text><text x="1535.4" y="1480.5" class="n" font-size="14" textLength="34.6" lengthAdjust="spacingAndGlyphs">10u/10V</text><text x="1336.4" y="1593.6" class="n" font-size="14" textLength="25.9" lengthAdjust="spacingAndGlyphs">U1302</text><text x="1336.4" y="1608.8" class="n" font-size="14" textLength="63.5" lengthAdjust="spacingAndGlyphs">NC/AX6607-BA</text><text x="1324.3" y="1626.4" class="k" font-size="14" textLength="3.5" lengthAdjust="spacingAndGlyphs">1</text><text x="1421.6" y="1626.4" class="k" font-size="14" textLength="5.8" lengthAdjust="spacingAndGlyphs">5</text><text x="1322.5" y="1675.3" class="k" font-size="14" textLength="5.5" lengthAdjust="spacingAndGlyphs">3</text><text x="1422" y="1675.3" class="k" font-size="14" textLength="5.8" lengthAdjust="spacingAndGlyphs">4</text><text x="1341.6" y="1636.4" class="ic" font-size="14" textLength="15.2" lengthAdjust="spacingAndGlyphs">VIN</text><text x="1386" y="1636.4" class="ic" font-size="14" textLength="24.5" lengthAdjust="spacingAndGlyphs">VOUT</text><text x="1341.6" y="1685" class="ic" font-size="14" textLength="11.7" lengthAdjust="spacingAndGlyphs">EN</text><text x="1399.9" y="1685" class="ic" font-size="14" textLength="10.6" lengthAdjust="spacingAndGlyphs">FB</text><text x="0" y="0" class="ic" font-size="15" textLength="30" lengthAdjust="spacingAndGlyphs" transform="translate(1385.6,1686) rotate(-90)">G   N   D</text><text x="1186.4" y="1675.3" class="n" font-size="14" textLength="25.9" lengthAdjust="spacingAndGlyphs">R1313</text><text x="1246.8" y="1675.3" class="n" font-size="14" textLength="32.4" lengthAdjust="spacingAndGlyphs">NC/10K</text><text x="1236.4" y="1739.8" class="n" font-size="14" textLength="25.6" lengthAdjust="spacingAndGlyphs">C1331</text><text x="1236.4" y="1755.7" class="n" font-size="14" textLength="54.8" lengthAdjust="spacingAndGlyphs">NC/0.1u/16V</text><text x="1528.5" y="1597" class="n" font-size="14" textLength="26.5" lengthAdjust="spacingAndGlyphs">R1314</text><text x="1527.8" y="1611.6" class="n" font-size="14" textLength="52.4" lengthAdjust="spacingAndGlyphs">NC/430K 1%</text><text x="1532" y="1724.3" class="n" font-size="14" textLength="25.8" lengthAdjust="spacingAndGlyphs">R1315</text><text x="1531.2" y="1743.3" class="n" font-size="14" textLength="56.6" lengthAdjust="spacingAndGlyphs">NC/82.5K 1%</text><text x="1116.4" y="1859.2" class="ttl" font-size="19" textLength="202.4" lengthAdjust="spacingAndGlyphs">Vo= 0.8 x (1+430K/82.5K) = 4.96V</text><text x="41.4" y="1652.8" class="ttl" font-size="25" textLength="359.6" lengthAdjust="spacingAndGlyphs">DIGITAL POWER DV33 / ANALOG POWER AV33</text><text x="40.7" y="1675.7" class="k" font-size="14" textLength="16.5" lengthAdjust="spacingAndGlyphs">+5V</text><text x="81.4" y="1675.7" class="n" font-size="14" textLength="25.6" lengthAdjust="spacingAndGlyphs">D7201</text><text x="81.4" y="1691.2" class="n" font-size="14" textLength="25.6" lengthAdjust="spacingAndGlyphs">B340B</text><text x="79.3" y="1707.4" class="k" font-size="14" textLength="3.5" lengthAdjust="spacingAndGlyphs">1</text><text x="107.2" y="1707.4" class="k" font-size="14" textLength="5.2" lengthAdjust="spacingAndGlyphs">2</text><text x="51" y="1740.2" class="n" font-size="14" textLength="31" lengthAdjust="spacingAndGlyphs">FB7207</text><text x="101" y="1740.2" class="n" font-size="14" textLength="53.5" lengthAdjust="spacingAndGlyphs">NC/120Ω 3A</text><text x="171" y="1787.8" class="n" font-size="14" textLength="26" lengthAdjust="spacingAndGlyphs">C7223</text><text x="170.7" y="1805" class="n" font-size="14" textLength="34.5" lengthAdjust="spacingAndGlyphs">10u/10V</text><text x="219" y="1787.8" class="n" font-size="14" textLength="25.8" lengthAdjust="spacingAndGlyphs">C7225</text><text x="216.6" y="1805" class="n" font-size="14" textLength="38.6" lengthAdjust="spacingAndGlyphs">0.1u/16V</text><text x="250.3" y="1707.4" class="n" font-size="14" textLength="25.9" lengthAdjust="spacingAndGlyphs">U7201</text><text x="250.3" y="1722.2" class="n" font-size="14" textLength="59.4" lengthAdjust="spacingAndGlyphs">AP1084K33LA</text><text x="237.2" y="1739.5" class="k" font-size="14" textLength="5.2" lengthAdjust="spacingAndGlyphs">3</text><text x="315.9" y="1739.5" class="k" font-size="14" textLength="5.1" lengthAdjust="spacingAndGlyphs">2</text><text x="316.5" y="1772.2" class="k" font-size="14" textLength="5.2" lengthAdjust="spacingAndGlyphs">4</text><text x="255.5" y="1748" class="ic" font-size="14" textLength="15.2" lengthAdjust="spacingAndGlyphs">VIN</text><text x="280.3" y="1748" class="ic" font-size="14" textLength="24.9" lengthAdjust="spacingAndGlyphs">VOUT</text><text x="288.3" y="1781.6" class="ic" font-size="14" textLength="16.9" lengthAdjust="spacingAndGlyphs">PAD</text><text x="0" y="0" class="ic" font-size="15" textLength="29.4" lengthAdjust="spacingAndGlyphs" transform="translate(289.9,1782.8) rotate(-90)">G   N   D</text><text x="350.3" y="1787.8" class="n" font-size="14" textLength="25.9" lengthAdjust="spacingAndGlyphs">C7226</text><text x="349.3" y="1805" class="n" font-size="14" textLength="38.7" lengthAdjust="spacingAndGlyphs">0.1u/16V</text><text x="413" y="1790" class="n" font-size="14" textLength="26" lengthAdjust="spacingAndGlyphs">C7224</text><text x="412" y="1805" class="n" font-size="14" textLength="45" lengthAdjust="spacingAndGlyphs">100uF/16V</text><text x="439.7" y="1707.4" class="n" font-size="14" textLength="26.2" lengthAdjust="spacingAndGlyphs">R7223</text><text x="489" y="1707.4" class="n" font-size="14" textLength="4.4" lengthAdjust="spacingAndGlyphs">0</text><text x="439.7" y="1739.5" class="n" font-size="14" textLength="26.2" lengthAdjust="spacingAndGlyphs">R7224</text><text x="489" y="1739.5" class="n" font-size="14" textLength="4.4" lengthAdjust="spacingAndGlyphs">0</text><text x="529.3" y="1713.6" class="k" font-size="14" textLength="21.7" lengthAdjust="spacingAndGlyphs">AV33</text><text x="529.3" y="1745.7" class="k" font-size="14" textLength="21.7" lengthAdjust="spacingAndGlyphs">DV33</text><text x="200.3" y="1873" class="cour" font-size="16.5" textLength="283.5" lengthAdjust="spacingAndGlyphs">U7201 PWR pad <tspan class="cjk">至少要</tspan> 2cm*2cm <tspan class="cjk">以上</tspan> .</text><text x="589.3" y="1636.6" class="ttl" font-size="24" textLength="184.5" lengthAdjust="spacingAndGlyphs">ANALOG POWER AV125</text><text x="588.6" y="1674.5" class="k" font-size="14" textLength="22.1" lengthAdjust="spacingAndGlyphs">AV33</text><text x="599.7" y="1740.7" class="n" font-size="14" textLength="25.8" lengthAdjust="spacingAndGlyphs">C7227</text><text x="599.7" y="1756.6" class="n" font-size="14" textLength="38.9" lengthAdjust="spacingAndGlyphs">100u/16V</text><text x="664" y="1740.7" class="n" font-size="14" textLength="26" lengthAdjust="spacingAndGlyphs">C7228</text><text x="658.3" y="1756.6" class="n" font-size="14" textLength="37.9" lengthAdjust="spacingAndGlyphs">0.1u/16V</text><text x="728.3" y="1659" class="n" font-size="14" textLength="25.7" lengthAdjust="spacingAndGlyphs">U7205</text><text x="728.3" y="1673.4" class="n" font-size="14" textLength="47.9" lengthAdjust="spacingAndGlyphs">G9117T63U</text><text x="715" y="1691" class="k" font-size="14" textLength="5.3" lengthAdjust="spacingAndGlyphs">3</text><text x="793.8" y="1691" class="k" font-size="14" textLength="5.2" lengthAdjust="spacingAndGlyphs">2</text><text x="794.3" y="1723.8" class="k" font-size="14" textLength="5.2" lengthAdjust="spacingAndGlyphs">4</text><text x="733.4" y="1701" class="ic" font-size="14" textLength="15.2" lengthAdjust="spacingAndGlyphs">VIN</text><text x="758.3" y="1701" class="ic" font-size="14" textLength="24.7" lengthAdjust="spacingAndGlyphs">VOUT</text><text x="766.2" y="1733" class="ic" font-size="14" textLength="16.2" lengthAdjust="spacingAndGlyphs">PAD</text><text x="0" y="0" class="ic" font-size="15" textLength="26" lengthAdjust="spacingAndGlyphs" transform="translate(767.8,1735) rotate(-90)">ADJ</text><text x="843.8" y="1723.4" class="n" font-size="14" textLength="26.5" lengthAdjust="spacingAndGlyphs">R7206</text><text x="843.8" y="1740.7" class="n" font-size="14" textLength="30" lengthAdjust="spacingAndGlyphs">240 1%</text><text x="846.9" y="1806.2" class="n" font-size="14" textLength="25.1" lengthAdjust="spacingAndGlyphs">R7207</text><text x="846.9" y="1824.5" class="n" font-size="14" textLength="25.1" lengthAdjust="spacingAndGlyphs">10 1%</text><text x="768.6" y="1820.3" class="n" font-size="14" textLength="25.9" lengthAdjust="spacingAndGlyphs">R7212</text><text x="768.6" y="1836.6" class="n" font-size="14" textLength="20.7" lengthAdjust="spacingAndGlyphs">NC/0</text><text x="898" y="1756.2" class="n" font-size="14" textLength="25.8" lengthAdjust="spacingAndGlyphs">C7230</text><text x="897.2" y="1771.7" class="n" font-size="14" textLength="38.7" lengthAdjust="spacingAndGlyphs">0.1u/16V</text><text x="957.6" y="1756.2" class="n" font-size="14" textLength="25.4" lengthAdjust="spacingAndGlyphs">C7231</text><text x="957.6" y="1771.7" class="n" font-size="14" textLength="29.4" lengthAdjust="spacingAndGlyphs">1u/16V</text><text x="1010.7" y="1740.7" class="n" font-size="14" textLength="25.9" lengthAdjust="spacingAndGlyphs">C7229</text><text x="1010" y="1756.6" class="n" font-size="14" textLength="39" lengthAdjust="spacingAndGlyphs">100u/16V</text><text x="1007.6" y="1659" class="n" font-size="14" textLength="30.7" lengthAdjust="spacingAndGlyphs">FB7208</text><text x="1007.6" y="1674.5" class="n" font-size="14" textLength="36.9" lengthAdjust="spacingAndGlyphs">120Ω 3A</text><text x="1068" y="1698.6" class="k" font-size="14" textLength="25.4" lengthAdjust="spacingAndGlyphs">AV125</text><text x="60.7" y="1947.4" class="k" font-size="14" textLength="43.8" lengthAdjust="spacingAndGlyphs">AMP_VDD</text><text x="200" y="1947.4" class="k" font-size="14" textLength="27.6" lengthAdjust="spacingAndGlyphs">+5VSB</text><text x="340" y="1947.4" class="k" font-size="14" textLength="45.5" lengthAdjust="spacingAndGlyphs">+12V_VDD</text><text x="84.5" y="2016.7" class="n" font-size="14" textLength="26.2" lengthAdjust="spacingAndGlyphs">C6407</text><text x="83" y="2031.9" class="n" font-size="14" textLength="39.4" lengthAdjust="spacingAndGlyphs">220u/50V</text><text x="131.4" y="2015" class="n" font-size="14" textLength="25.8" lengthAdjust="spacingAndGlyphs">C7123</text><text x="130.3" y="2047.8" class="n" font-size="14" textLength="38" lengthAdjust="spacingAndGlyphs">0.1u/50V</text><text x="223.4" y="2016.7" class="n" font-size="14" textLength="25.9" lengthAdjust="spacingAndGlyphs">C7133</text><text x="222.4" y="2031.9" class="n" font-size="14" textLength="44.2" lengthAdjust="spacingAndGlyphs">100uF/16V</text><text x="281" y="2031.2" class="n" font-size="14" textLength="25.9" lengthAdjust="spacingAndGlyphs">C7134</text><text x="279.7" y="2047.8" class="n" font-size="14" textLength="37.9" lengthAdjust="spacingAndGlyphs">0.1u/16V</text><text x="360.7" y="2031.2" class="n" font-size="14" textLength="25.9" lengthAdjust="spacingAndGlyphs">C7128</text><text x="359.7" y="2047.8" class="n" font-size="14" textLength="39.6" lengthAdjust="spacingAndGlyphs">220u/25V</text><text x="419.3" y="2031.2" class="n" font-size="14" textLength="25.9" lengthAdjust="spacingAndGlyphs">C7126</text><text x="418.3" y="2047.8" class="n" font-size="14" textLength="38.7" lengthAdjust="spacingAndGlyphs">0.1u/16V</text><text x="220" y="2117" class="cour" font-size="15.5" textLength="111.5" lengthAdjust="spacingAndGlyphs">Near connector</text><text x="77" y="239.4" class="hd" font-size="40" textLength="723.5" lengthAdjust="spacingAndGlyphs">CHAPTER 8.SCHEMATIC DIAGRAM</text><text x="77" y="287.2" class="hd" font-size="30.5" textLength="934" lengthAdjust="spacingAndGlyphs">[1]MAIN SCHEMATIC DIAGRAM (LC-32D59U &amp; LC-42D69U)</text><text x="76.3" y="335.6" class="hd" font-size="29" textLength="241.5" lengthAdjust="spacingAndGlyphs">01 MAIN POWER</text><text x="782.6" y="2194.9" class="ser" font-size="29" textLength="40.5" lengthAdjust="spacingAndGlyphs">102</text></g>
<g id="ann"><rect x="844.6" y="111.4" width="597" height="122.6" fill="#ffff00" stroke="#f00a0a" stroke-width="3.4"/><text x="850.4" y="142.4" class="an" font-size="32" textLength="430.5" lengthAdjust="spacingAndGlyphs">EXAMPLE OF MAIN BOARD</text><text x="850.4" y="182.2" class="an" font-size="32" textLength="465.5" lengthAdjust="spacingAndGlyphs">INTERFACE SIGNALS, BUD M</text><text x="850.8" y="222.0" class="an" font-size="32" textLength="164" lengthAdjust="spacingAndGlyphs">10/15/2015</text><path d="M216 373.3L173.9 410.6M183.3 386.2L173.9 410.6L201 403.2" stroke="#f00a0a" stroke-width="3.8" fill="none" stroke-linecap="round"/><rect x="216" y="342" width="123" height="42.39999999999998" fill="#ffff00" stroke="#f00a0a" stroke-width="3.6"/><text x="222.6" y="371.3" class="an" font-size="33" textLength="97" lengthAdjust="spacingAndGlyphs">BL-ON</text><path d="M1470 1052L1417.5 1003.2M1443.4 1011.2L1417.5 1003.2L1426 1029" stroke="#f00a0a" stroke-width="3.8" fill="none" stroke-linecap="round"/><rect x="1453.2" y="994.9" width="125.20000000000005" height="42.10000000000002" fill="#ffff00" stroke="#f00a0a" stroke-width="3.6"/><text x="1459.9" y="1025.7" class="an" font-size="33" textLength="97" lengthAdjust="spacingAndGlyphs">BL-ON</text></g>
</svg></body></html>
